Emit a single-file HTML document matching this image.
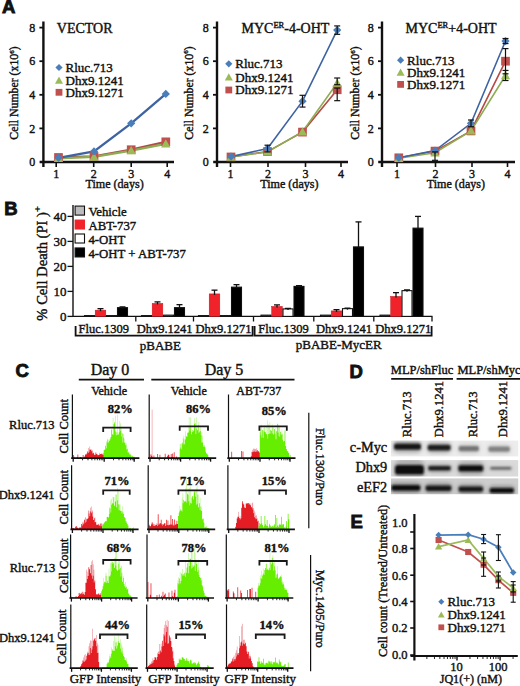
<!DOCTYPE html>
<html><head><meta charset="utf-8"><title>Figure</title>
<style>html,body{margin:0;padding:0;background:#fff;}svg{display:block;}</style>
</head><body>
<svg width="520" height="686" viewBox="0 0 520 686">
<rect width="520" height="686" fill="#fff"/>
<text x="2.0" y="12.6" font-size="18.5" font-family='"Liberation Sans", sans-serif' font-weight="bold" fill="#111" stroke="#111" stroke-width="0.9">A</text>
<text x="4.3" y="214.6" font-size="18.5" font-family='"Liberation Sans", sans-serif' font-weight="bold" fill="#111" stroke="#111" stroke-width="0.9">B</text>
<text x="15.6" y="377.0" font-size="18.5" font-family='"Liberation Sans", sans-serif' font-weight="bold" fill="#111" stroke="#111" stroke-width="0.9">C</text>
<text x="349.6" y="378.4" font-size="18.5" font-family='"Liberation Sans", sans-serif' font-weight="bold" fill="#111" stroke="#111" stroke-width="0.9">D</text>
<text x="350.6" y="528.0" font-size="18.5" font-family='"Liberation Sans", sans-serif' font-weight="bold" fill="#111" stroke="#111" stroke-width="0.9">E</text>
<line x1="43.4" y1="21.5" x2="43.4" y2="167" stroke="#111" stroke-width="2.4" stroke-linecap="butt"/>
<line x1="39.6" y1="162" x2="174" y2="162" stroke="#111" stroke-width="2.4" stroke-linecap="butt"/>
<line x1="39.4" y1="128.4" x2="43.4" y2="128.4" stroke="#111" stroke-width="1.8" stroke-linecap="butt"/>
<line x1="39.4" y1="94.8" x2="43.4" y2="94.8" stroke="#111" stroke-width="1.8" stroke-linecap="butt"/>
<line x1="39.4" y1="61.19999999999999" x2="43.4" y2="61.19999999999999" stroke="#111" stroke-width="1.8" stroke-linecap="butt"/>
<line x1="39.4" y1="27.599999999999994" x2="43.4" y2="27.599999999999994" stroke="#111" stroke-width="1.8" stroke-linecap="butt"/>
<line x1="56.2" y1="162" x2="56.2" y2="167" stroke="#111" stroke-width="1.6" stroke-linecap="butt"/>
<line x1="93.7" y1="162" x2="93.7" y2="167" stroke="#111" stroke-width="1.6" stroke-linecap="butt"/>
<line x1="131.2" y1="162" x2="131.2" y2="167" stroke="#111" stroke-width="1.6" stroke-linecap="butt"/>
<line x1="167.2" y1="162" x2="167.2" y2="167" stroke="#111" stroke-width="1.6" stroke-linecap="butt"/>
<text x="35.2" y="166.2" font-size="12" font-family='"Liberation Serif", serif' text-anchor="end" fill="#111" stroke="#111" stroke-width="0.4">0</text>
<text x="35.2" y="132.6" font-size="12" font-family='"Liberation Serif", serif' text-anchor="end" fill="#111" stroke="#111" stroke-width="0.4">2</text>
<text x="35.2" y="99.0" font-size="12" font-family='"Liberation Serif", serif' text-anchor="end" fill="#111" stroke="#111" stroke-width="0.4">4</text>
<text x="35.2" y="65.39999999999999" font-size="12" font-family='"Liberation Serif", serif' text-anchor="end" fill="#111" stroke="#111" stroke-width="0.4">6</text>
<text x="35.2" y="31.799999999999994" font-size="12" font-family='"Liberation Serif", serif' text-anchor="end" fill="#111" stroke="#111" stroke-width="0.4">8</text>
<text x="56.2" y="177.6" font-size="12" font-family='"Liberation Serif", serif' text-anchor="middle" fill="#111" stroke="#111" stroke-width="0.4">1</text>
<text x="93.7" y="177.6" font-size="12" font-family='"Liberation Serif", serif' text-anchor="middle" fill="#111" stroke="#111" stroke-width="0.4">2</text>
<text x="131.2" y="177.6" font-size="12" font-family='"Liberation Serif", serif' text-anchor="middle" fill="#111" stroke="#111" stroke-width="0.4">3</text>
<text x="167.2" y="177.6" font-size="12" font-family='"Liberation Serif", serif' text-anchor="middle" fill="#111" stroke="#111" stroke-width="0.4">4</text>
<text x="114.6" y="187.7" font-size="12.1" font-family='"Liberation Serif", serif' text-anchor="middle" fill="#111" stroke="#111" stroke-width="0.4">Time (days)</text>
<text x="18.2" y="93" font-size="11.8" font-family='"Liberation Serif", serif' text-anchor="middle" fill="#111" stroke="#111" stroke-width="0.4" transform="rotate(-90 18.2 93)">Cell Number (x10<tspan font-size="7" dy="-4.5">6</tspan><tspan dy="4.5">)</tspan></text>
<text x="56.8" y="32.8" font-size="14" font-family='"Liberation Serif", serif' fill="#111" stroke="#111" stroke-width="0.4">VECTOR</text>
<polyline points="58.50,157.46 94.00,156.46 131.20,149.74 165.80,141.84" fill="none" stroke="#b44a46" stroke-width="2.3"/>
<polyline points="58.50,158.30 94.00,156.96 131.20,150.58 165.80,143.86" fill="none" stroke="#8cad52" stroke-width="2.3"/>
<polyline points="58.50,157.80 94.00,151.42 131.20,123.36 165.80,93.96" fill="none" stroke="#3d63a2" stroke-width="2.3"/>
<rect x="54.147999999999996" y="153.112" width="8.704" height="8.704" fill="#c0504d"/>
<rect x="89.648" y="152.10399999999998" width="8.704" height="8.704" fill="#c0504d"/>
<rect x="126.84799999999998" y="145.384" width="8.704" height="8.704" fill="#c0504d"/>
<rect x="161.448" y="137.488" width="8.704" height="8.704" fill="#c0504d"/>
<polygon points="58.50,153.70 63.10,161.98 53.90,161.98" fill="#9bbb59"/>
<polygon points="94.00,152.36 98.60,160.64 89.40,160.64" fill="#9bbb59"/>
<polygon points="131.20,145.98 135.80,154.26 126.60,154.26" fill="#9bbb59"/>
<polygon points="165.80,139.26 170.40,147.54 161.20,147.54" fill="#9bbb59"/>
<polygon points="58.50,153.66 62.64,157.80 58.50,161.94 54.36,157.80" fill="#4a7ebb"/>
<polygon points="94.00,147.28 98.14,151.42 94.00,155.56 89.86,151.42" fill="#4a7ebb"/>
<polygon points="131.20,119.22 135.34,123.36 131.20,127.50 127.06,123.36" fill="#4a7ebb"/>
<polygon points="165.80,89.82 169.94,93.96 165.80,98.10 161.66,93.96" fill="#4a7ebb"/>
<polygon points="59.00,63.90 62.60,67.50 59.00,71.10 55.40,67.50" fill="#4a7ebb"/>
<text x="65.5" y="71.8" font-size="13" font-family='"Liberation Serif", serif' fill="#111" stroke="#111" stroke-width="0.4">Rluc.713</text>
<polygon points="59.00,76.50 63.00,83.70 55.00,83.70" fill="#9bbb59"/>
<text x="65.5" y="84.8" font-size="13" font-family='"Liberation Serif", serif' fill="#111" stroke="#111" stroke-width="0.4">Dhx9.1241</text>
<rect x="55.6" y="88.89999999999999" width="6.8" height="6.8" fill="#c0504d"/>
<text x="65.5" y="96.6" font-size="13" font-family='"Liberation Serif", serif' fill="#111" stroke="#111" stroke-width="0.4">Dhx9.1271</text>
<line x1="217" y1="21.5" x2="217" y2="167" stroke="#111" stroke-width="2.4" stroke-linecap="butt"/>
<line x1="213.2" y1="162" x2="348" y2="162" stroke="#111" stroke-width="2.4" stroke-linecap="butt"/>
<line x1="213" y1="128.4" x2="217" y2="128.4" stroke="#111" stroke-width="1.8" stroke-linecap="butt"/>
<line x1="213" y1="94.8" x2="217" y2="94.8" stroke="#111" stroke-width="1.8" stroke-linecap="butt"/>
<line x1="213" y1="61.19999999999999" x2="217" y2="61.19999999999999" stroke="#111" stroke-width="1.8" stroke-linecap="butt"/>
<line x1="213" y1="27.599999999999994" x2="217" y2="27.599999999999994" stroke="#111" stroke-width="1.8" stroke-linecap="butt"/>
<line x1="230.5" y1="162" x2="230.5" y2="167" stroke="#111" stroke-width="1.6" stroke-linecap="butt"/>
<line x1="268" y1="162" x2="268" y2="167" stroke="#111" stroke-width="1.6" stroke-linecap="butt"/>
<line x1="305.5" y1="162" x2="305.5" y2="167" stroke="#111" stroke-width="1.6" stroke-linecap="butt"/>
<line x1="341" y1="162" x2="341" y2="167" stroke="#111" stroke-width="1.6" stroke-linecap="butt"/>
<text x="208.8" y="166.2" font-size="12" font-family='"Liberation Serif", serif' text-anchor="end" fill="#111" stroke="#111" stroke-width="0.4">0</text>
<text x="208.8" y="132.6" font-size="12" font-family='"Liberation Serif", serif' text-anchor="end" fill="#111" stroke="#111" stroke-width="0.4">2</text>
<text x="208.8" y="99.0" font-size="12" font-family='"Liberation Serif", serif' text-anchor="end" fill="#111" stroke="#111" stroke-width="0.4">4</text>
<text x="208.8" y="65.39999999999999" font-size="12" font-family='"Liberation Serif", serif' text-anchor="end" fill="#111" stroke="#111" stroke-width="0.4">6</text>
<text x="208.8" y="31.799999999999994" font-size="12" font-family='"Liberation Serif", serif' text-anchor="end" fill="#111" stroke="#111" stroke-width="0.4">8</text>
<text x="230.5" y="177.6" font-size="12" font-family='"Liberation Serif", serif' text-anchor="middle" fill="#111" stroke="#111" stroke-width="0.4">1</text>
<text x="268" y="177.6" font-size="12" font-family='"Liberation Serif", serif' text-anchor="middle" fill="#111" stroke="#111" stroke-width="0.4">2</text>
<text x="305.5" y="177.6" font-size="12" font-family='"Liberation Serif", serif' text-anchor="middle" fill="#111" stroke="#111" stroke-width="0.4">3</text>
<text x="341" y="177.6" font-size="12" font-family='"Liberation Serif", serif' text-anchor="middle" fill="#111" stroke="#111" stroke-width="0.4">4</text>
<text x="289.4" y="187.7" font-size="12.1" font-family='"Liberation Serif", serif' text-anchor="middle" fill="#111" stroke="#111" stroke-width="0.4">Time (days)</text>
<text x="192.6" y="93" font-size="11.8" font-family='"Liberation Serif", serif' text-anchor="middle" fill="#111" stroke="#111" stroke-width="0.4" transform="rotate(-90 192.6 93)">Cell Number (x10<tspan font-size="7" dy="-4.5">6</tspan><tspan dy="4.5">)</tspan></text>
<text x="241.5" y="32.8" font-size="14" font-family='"Liberation Serif", serif' fill="#111" stroke="#111" stroke-width="0.4">MYC<tspan font-size="8.5" dy="-4.5">ER</tspan><tspan dy="4.5">-4-OHT</tspan></text>
<polyline points="231.00,156.96 267.50,151.58 302.50,132.10 337.20,89.76" fill="none" stroke="#b44a46" stroke-width="1.6"/>
<polyline points="231.00,156.96 267.50,151.92 302.50,131.76 337.20,83.04" fill="none" stroke="#8cad52" stroke-width="1.6"/>
<polyline points="231.00,156.62 267.50,148.56 302.50,101.18 337.20,30.12" fill="none" stroke="#3d63a2" stroke-width="1.6"/>
<rect x="226.648" y="152.608" width="8.704" height="8.704" fill="#c0504d"/>
<rect x="263.148" y="147.232" width="8.704" height="8.704" fill="#c0504d"/>
<rect x="298.148" y="127.744" width="8.704" height="8.704" fill="#c0504d"/>
<rect x="332.848" y="85.408" width="8.704" height="8.704" fill="#c0504d"/>
<polygon points="231.00,152.36 235.60,160.64 226.40,160.64" fill="#9bbb59"/>
<polygon points="267.50,147.32 272.10,155.60 262.90,155.60" fill="#9bbb59"/>
<polygon points="302.50,127.16 307.10,135.44 297.90,135.44" fill="#9bbb59"/>
<polygon points="337.20,78.44 341.80,86.72 332.60,86.72" fill="#9bbb59"/>
<polygon points="231.00,152.48 235.14,156.62 231.00,160.76 226.86,156.62" fill="#4a7ebb"/>
<polygon points="267.50,144.42 271.64,148.56 267.50,152.70 263.36,148.56" fill="#4a7ebb"/>
<polygon points="302.50,97.04 306.64,101.18 302.50,105.32 298.36,101.18" fill="#4a7ebb"/>
<polygon points="337.20,25.98 341.34,30.12 337.20,34.26 333.06,30.12" fill="#4a7ebb"/>
<line x1="337.2" y1="88.08000000000001" x2="337.2" y2="100.68" stroke="#111" stroke-width="1.2" stroke-linecap="butt"/>
<line x1="334.2" y1="88.08000000000001" x2="340.2" y2="88.08000000000001" stroke="#111" stroke-width="1.2" stroke-linecap="butt"/>
<line x1="334.2" y1="100.68" x2="340.2" y2="100.68" stroke="#111" stroke-width="1.2" stroke-linecap="butt"/>
<line x1="337.2" y1="78.0" x2="337.2" y2="84.71999999999998" stroke="#111" stroke-width="1.2" stroke-linecap="butt"/>
<line x1="334.2" y1="78.0" x2="340.2" y2="78.0" stroke="#111" stroke-width="1.2" stroke-linecap="butt"/>
<line x1="334.2" y1="84.71999999999998" x2="340.2" y2="84.71999999999998" stroke="#111" stroke-width="1.2" stroke-linecap="butt"/>
<line x1="267.5" y1="145.2" x2="267.5" y2="151.92" stroke="#111" stroke-width="1.2" stroke-linecap="butt"/>
<line x1="264.5" y1="145.2" x2="270.5" y2="145.2" stroke="#111" stroke-width="1.2" stroke-linecap="butt"/>
<line x1="264.5" y1="151.92" x2="270.5" y2="151.92" stroke="#111" stroke-width="1.2" stroke-linecap="butt"/>
<line x1="302.5" y1="95.30399999999999" x2="302.5" y2="107.064" stroke="#111" stroke-width="1.2" stroke-linecap="butt"/>
<line x1="299.5" y1="95.30399999999999" x2="305.5" y2="95.30399999999999" stroke="#111" stroke-width="1.2" stroke-linecap="butt"/>
<line x1="299.5" y1="107.064" x2="305.5" y2="107.064" stroke="#111" stroke-width="1.2" stroke-linecap="butt"/>
<line x1="337.2" y1="25.919999999999987" x2="337.2" y2="34.32000000000001" stroke="#111" stroke-width="1.2" stroke-linecap="butt"/>
<line x1="334.2" y1="25.919999999999987" x2="340.2" y2="25.919999999999987" stroke="#111" stroke-width="1.2" stroke-linecap="butt"/>
<line x1="334.2" y1="34.32000000000001" x2="340.2" y2="34.32000000000001" stroke="#111" stroke-width="1.2" stroke-linecap="butt"/>
<polygon points="228.80,60.20 232.40,63.80 228.80,67.40 225.20,63.80" fill="#4a7ebb"/>
<text x="235.3" y="68.1" font-size="13" font-family='"Liberation Serif", serif' fill="#111" stroke="#111" stroke-width="0.4">Rluc.713</text>
<polygon points="228.80,73.30 232.80,80.50 224.80,80.50" fill="#9bbb59"/>
<text x="235.3" y="81.6" font-size="13" font-family='"Liberation Serif", serif' fill="#111" stroke="#111" stroke-width="0.4">Dhx9.1241</text>
<rect x="225.4" y="86.6" width="6.8" height="6.8" fill="#c0504d"/>
<text x="235.3" y="94.3" font-size="13" font-family='"Liberation Serif", serif' fill="#111" stroke="#111" stroke-width="0.4">Dhx9.1271</text>
<line x1="382" y1="21.5" x2="382" y2="167" stroke="#111" stroke-width="2.4" stroke-linecap="butt"/>
<line x1="378.2" y1="162" x2="515" y2="162" stroke="#111" stroke-width="2.4" stroke-linecap="butt"/>
<line x1="378" y1="128.4" x2="382" y2="128.4" stroke="#111" stroke-width="1.8" stroke-linecap="butt"/>
<line x1="378" y1="94.8" x2="382" y2="94.8" stroke="#111" stroke-width="1.8" stroke-linecap="butt"/>
<line x1="378" y1="61.19999999999999" x2="382" y2="61.19999999999999" stroke="#111" stroke-width="1.8" stroke-linecap="butt"/>
<line x1="378" y1="27.599999999999994" x2="382" y2="27.599999999999994" stroke="#111" stroke-width="1.8" stroke-linecap="butt"/>
<line x1="397" y1="162" x2="397" y2="167" stroke="#111" stroke-width="1.6" stroke-linecap="butt"/>
<line x1="435.5" y1="162" x2="435.5" y2="167" stroke="#111" stroke-width="1.6" stroke-linecap="butt"/>
<line x1="472" y1="162" x2="472" y2="167" stroke="#111" stroke-width="1.6" stroke-linecap="butt"/>
<line x1="507.5" y1="162" x2="507.5" y2="167" stroke="#111" stroke-width="1.6" stroke-linecap="butt"/>
<text x="373.8" y="166.2" font-size="12" font-family='"Liberation Serif", serif' text-anchor="end" fill="#111" stroke="#111" stroke-width="0.4">0</text>
<text x="373.8" y="132.6" font-size="12" font-family='"Liberation Serif", serif' text-anchor="end" fill="#111" stroke="#111" stroke-width="0.4">2</text>
<text x="373.8" y="99.0" font-size="12" font-family='"Liberation Serif", serif' text-anchor="end" fill="#111" stroke="#111" stroke-width="0.4">4</text>
<text x="373.8" y="65.39999999999999" font-size="12" font-family='"Liberation Serif", serif' text-anchor="end" fill="#111" stroke="#111" stroke-width="0.4">6</text>
<text x="373.8" y="31.799999999999994" font-size="12" font-family='"Liberation Serif", serif' text-anchor="end" fill="#111" stroke="#111" stroke-width="0.4">8</text>
<text x="397" y="177.6" font-size="12" font-family='"Liberation Serif", serif' text-anchor="middle" fill="#111" stroke="#111" stroke-width="0.4">1</text>
<text x="435.5" y="177.6" font-size="12" font-family='"Liberation Serif", serif' text-anchor="middle" fill="#111" stroke="#111" stroke-width="0.4">2</text>
<text x="472" y="177.6" font-size="12" font-family='"Liberation Serif", serif' text-anchor="middle" fill="#111" stroke="#111" stroke-width="0.4">3</text>
<text x="507.5" y="177.6" font-size="12" font-family='"Liberation Serif", serif' text-anchor="middle" fill="#111" stroke="#111" stroke-width="0.4">4</text>
<text x="455.9" y="187.7" font-size="12.1" font-family='"Liberation Serif", serif' text-anchor="middle" fill="#111" stroke="#111" stroke-width="0.4">Time (days)</text>
<text x="359.2" y="93" font-size="11.8" font-family='"Liberation Serif", serif' text-anchor="middle" fill="#111" stroke="#111" stroke-width="0.4" transform="rotate(-90 359.2 93)">Cell Number (x10<tspan font-size="7" dy="-4.5">6</tspan><tspan dy="4.5">)</tspan></text>
<text x="405.5" y="32.8" font-size="14" font-family='"Liberation Serif", serif' fill="#111" stroke="#111" stroke-width="0.4">MYC<tspan font-size="8.5" dy="-4.5">ER</tspan><tspan dy="4.5">+4-OHT</tspan></text>
<polyline points="398.80,157.80 435.00,151.08 471.00,130.92 505.50,61.20" fill="none" stroke="#b44a46" stroke-width="1.6"/>
<polyline points="398.80,158.30 435.00,152.76 471.00,130.92 505.50,75.48" fill="none" stroke="#8cad52" stroke-width="1.6"/>
<polyline points="398.80,157.80 435.00,150.58 471.00,123.36 505.50,41.04" fill="none" stroke="#3d63a2" stroke-width="1.6"/>
<rect x="394.44800000000004" y="153.448" width="8.704" height="8.704" fill="#c0504d"/>
<rect x="430.648" y="146.72799999999998" width="8.704" height="8.704" fill="#c0504d"/>
<rect x="466.648" y="126.56799999999998" width="8.704" height="8.704" fill="#c0504d"/>
<rect x="501.148" y="56.847999999999985" width="8.704" height="8.704" fill="#c0504d"/>
<polygon points="398.80,153.70 403.40,161.98 394.20,161.98" fill="#9bbb59"/>
<polygon points="435.00,148.16 439.60,156.44 430.40,156.44" fill="#9bbb59"/>
<polygon points="471.00,126.32 475.60,134.60 466.40,134.60" fill="#9bbb59"/>
<polygon points="505.50,70.88 510.10,79.16 500.90,79.16" fill="#9bbb59"/>
<polygon points="398.80,153.66 402.94,157.80 398.80,161.94 394.66,157.80" fill="#4a7ebb"/>
<polygon points="435.00,146.44 439.14,150.58 435.00,154.72 430.86,150.58" fill="#4a7ebb"/>
<polygon points="471.00,119.22 475.14,123.36 471.00,127.50 466.86,123.36" fill="#4a7ebb"/>
<polygon points="505.50,36.90 509.64,41.04 505.50,45.18 501.36,41.04" fill="#4a7ebb"/>
<line x1="505.5" y1="48.599999999999994" x2="505.5" y2="73.8" stroke="#111" stroke-width="1.2" stroke-linecap="butt"/>
<line x1="502.5" y1="48.599999999999994" x2="508.5" y2="48.599999999999994" stroke="#111" stroke-width="1.2" stroke-linecap="butt"/>
<line x1="502.5" y1="73.8" x2="508.5" y2="73.8" stroke="#111" stroke-width="1.2" stroke-linecap="butt"/>
<line x1="435" y1="151.92" x2="435" y2="160.32" stroke="#111" stroke-width="1.2" stroke-linecap="butt"/>
<line x1="432" y1="151.92" x2="438" y2="151.92" stroke="#111" stroke-width="1.2" stroke-linecap="butt"/>
<line x1="432" y1="160.32" x2="438" y2="160.32" stroke="#111" stroke-width="1.2" stroke-linecap="butt"/>
<line x1="505.5" y1="70.44" x2="505.5" y2="80.51999999999998" stroke="#111" stroke-width="1.2" stroke-linecap="butt"/>
<line x1="502.5" y1="70.44" x2="508.5" y2="70.44" stroke="#111" stroke-width="1.2" stroke-linecap="butt"/>
<line x1="502.5" y1="80.51999999999998" x2="508.5" y2="80.51999999999998" stroke="#111" stroke-width="1.2" stroke-linecap="butt"/>
<line x1="471" y1="120.0" x2="471" y2="126.72" stroke="#111" stroke-width="1.2" stroke-linecap="butt"/>
<line x1="468" y1="120.0" x2="474" y2="120.0" stroke="#111" stroke-width="1.2" stroke-linecap="butt"/>
<line x1="468" y1="126.72" x2="474" y2="126.72" stroke="#111" stroke-width="1.2" stroke-linecap="butt"/>
<line x1="505.5" y1="38.51999999999998" x2="505.5" y2="43.56" stroke="#111" stroke-width="1.2" stroke-linecap="butt"/>
<line x1="502.5" y1="38.51999999999998" x2="508.5" y2="38.51999999999998" stroke="#111" stroke-width="1.2" stroke-linecap="butt"/>
<line x1="502.5" y1="43.56" x2="508.5" y2="43.56" stroke="#111" stroke-width="1.2" stroke-linecap="butt"/>
<polygon points="400.60,56.60 404.20,60.20 400.60,63.80 397.00,60.20" fill="#4a7ebb"/>
<text x="407.1" y="64.5" font-size="13" font-family='"Liberation Serif", serif' fill="#111" stroke="#111" stroke-width="0.4">Rluc.713</text>
<polygon points="400.60,68.60 404.60,75.80 396.60,75.80" fill="#9bbb59"/>
<text x="407.1" y="76.89999999999999" font-size="13" font-family='"Liberation Serif", serif' fill="#111" stroke="#111" stroke-width="0.4">Dhx9.1241</text>
<rect x="397.20000000000005" y="81.0" width="6.8" height="6.8" fill="#c0504d"/>
<text x="407.1" y="88.7" font-size="13" font-family='"Liberation Serif", serif' fill="#111" stroke="#111" stroke-width="0.4">Dhx9.1271</text>
<line x1="73" y1="205" x2="73" y2="316.9" stroke="#111" stroke-width="1.4" stroke-linecap="butt"/>
<line x1="73" y1="316.4" x2="432.5" y2="316.4" stroke="#111" stroke-width="1.4" stroke-linecap="butt"/>
<line x1="67.5" y1="316.4" x2="73" y2="316.4" stroke="#111" stroke-width="1.3" stroke-linecap="butt"/>
<text x="66.5" y="320.9" font-size="13" font-family='"Liberation Serif", serif' text-anchor="end" fill="#111" stroke="#111" stroke-width="0.4">0</text>
<line x1="67.5" y1="291.4" x2="73" y2="291.4" stroke="#111" stroke-width="1.3" stroke-linecap="butt"/>
<text x="66.5" y="295.9" font-size="13" font-family='"Liberation Serif", serif' text-anchor="end" fill="#111" stroke="#111" stroke-width="0.4">10</text>
<line x1="67.5" y1="266.4" x2="73" y2="266.4" stroke="#111" stroke-width="1.3" stroke-linecap="butt"/>
<text x="66.5" y="270.9" font-size="13" font-family='"Liberation Serif", serif' text-anchor="end" fill="#111" stroke="#111" stroke-width="0.4">20</text>
<line x1="67.5" y1="241.39999999999998" x2="73" y2="241.39999999999998" stroke="#111" stroke-width="1.3" stroke-linecap="butt"/>
<text x="66.5" y="245.89999999999998" font-size="13" font-family='"Liberation Serif", serif' text-anchor="end" fill="#111" stroke="#111" stroke-width="0.4">30</text>
<line x1="67.5" y1="216.39999999999998" x2="73" y2="216.39999999999998" stroke="#111" stroke-width="1.3" stroke-linecap="butt"/>
<text x="66.5" y="220.89999999999998" font-size="13" font-family='"Liberation Serif", serif' text-anchor="end" fill="#111" stroke="#111" stroke-width="0.4">40</text>
<text x="47.0" y="263.4" font-size="14.6" font-family='"Liberation Serif", serif' text-anchor="middle" fill="#111" stroke="#111" stroke-width="0.4" transform="rotate(-90 47.0 263.4)">% Cell Death (PI )<tspan font-size="10.5" dy="-5.5">+</tspan></text>
<line x1="135.8" y1="316.4" x2="135.8" y2="321.5" stroke="#111" stroke-width="1.3" stroke-linecap="butt"/>
<line x1="193.5" y1="316.4" x2="193.5" y2="321.5" stroke="#111" stroke-width="1.3" stroke-linecap="butt"/>
<line x1="253.5" y1="316.4" x2="253.5" y2="321.5" stroke="#111" stroke-width="1.3" stroke-linecap="butt"/>
<line x1="313.8" y1="316.4" x2="313.8" y2="321.5" stroke="#111" stroke-width="1.3" stroke-linecap="butt"/>
<line x1="373.8" y1="316.4" x2="373.8" y2="321.5" stroke="#111" stroke-width="1.3" stroke-linecap="butt"/>
<line x1="432" y1="316.4" x2="432" y2="321.5" stroke="#111" stroke-width="1.3" stroke-linecap="butt"/>
<rect x="84.5" y="315.59999999999997" width="10" height="0.8" fill="#bcbcbc" stroke="#111" stroke-width="1.1"/>
<rect x="95.2" y="310.15" width="10.6" height="6.25" fill="#f0222a" stroke="#c8161e" stroke-width="0.5"/>
<rect x="106.5" y="315.59999999999997" width="10" height="0.8" fill="#ffffff" stroke="#111" stroke-width="1.1"/>
<rect x="117.5" y="307.65" width="10" height="8.75" fill="#000000" stroke="#111" stroke-width="1.1"/>
<line x1="100.5" y1="308.65" x2="100.5" y2="311.15" stroke="#111" stroke-width="1.3" stroke-linecap="butt"/>
<line x1="97.5" y1="308.65" x2="103.5" y2="308.65" stroke="#111" stroke-width="1.3" stroke-linecap="butt"/>
<line x1="122.5" y1="306.9" x2="122.5" y2="308.65" stroke="#111" stroke-width="1.3" stroke-linecap="butt"/>
<line x1="119.5" y1="306.9" x2="125.5" y2="306.9" stroke="#111" stroke-width="1.3" stroke-linecap="butt"/>
<rect x="141.5" y="315.59999999999997" width="10" height="0.8" fill="#bcbcbc" stroke="#111" stroke-width="1.1"/>
<rect x="152.2" y="303.4" width="10.6" height="13.0" fill="#f0222a" stroke="#c8161e" stroke-width="0.5"/>
<rect x="163.5" y="315.15" width="10" height="1.25" fill="#ffffff" stroke="#111" stroke-width="1.1"/>
<rect x="174.5" y="307.65" width="10" height="8.75" fill="#000000" stroke="#111" stroke-width="1.1"/>
<line x1="157.5" y1="301.9" x2="157.5" y2="304.4" stroke="#111" stroke-width="1.3" stroke-linecap="butt"/>
<line x1="154.5" y1="301.9" x2="160.5" y2="301.9" stroke="#111" stroke-width="1.3" stroke-linecap="butt"/>
<line x1="179.5" y1="304.65" x2="179.5" y2="308.65" stroke="#111" stroke-width="1.3" stroke-linecap="butt"/>
<line x1="176.5" y1="304.65" x2="182.5" y2="304.65" stroke="#111" stroke-width="1.3" stroke-linecap="butt"/>
<rect x="198.5" y="315.59999999999997" width="10" height="0.8" fill="#bcbcbc" stroke="#111" stroke-width="1.1"/>
<rect x="209.2" y="293.9" width="10.6" height="22.5" fill="#f0222a" stroke="#c8161e" stroke-width="0.5"/>
<rect x="220.5" y="315.59999999999997" width="10" height="0.8" fill="#ffffff" stroke="#111" stroke-width="1.1"/>
<rect x="231.5" y="287.15" width="10" height="29.25" fill="#000000" stroke="#111" stroke-width="1.1"/>
<line x1="214.5" y1="290.15" x2="214.5" y2="294.9" stroke="#111" stroke-width="1.3" stroke-linecap="butt"/>
<line x1="211.5" y1="290.15" x2="217.5" y2="290.15" stroke="#111" stroke-width="1.3" stroke-linecap="butt"/>
<line x1="236.5" y1="284.65" x2="236.5" y2="288.15" stroke="#111" stroke-width="1.3" stroke-linecap="butt"/>
<line x1="233.5" y1="284.65" x2="239.5" y2="284.65" stroke="#111" stroke-width="1.3" stroke-linecap="butt"/>
<rect x="261.0" y="315.15" width="10" height="1.25" fill="#bcbcbc" stroke="#111" stroke-width="1.1"/>
<rect x="271.7" y="306.4" width="10.6" height="10.0" fill="#f0222a" stroke="#c8161e" stroke-width="0.5"/>
<rect x="283.0" y="308.9" width="10" height="7.5" fill="#ffffff" stroke="#111" stroke-width="1.1"/>
<rect x="294.0" y="286.4" width="10" height="30.0" fill="#000000" stroke="#111" stroke-width="1.1"/>
<line x1="277.0" y1="304.9" x2="277.0" y2="307.4" stroke="#111" stroke-width="1.3" stroke-linecap="butt"/>
<line x1="274.0" y1="304.9" x2="280.0" y2="304.9" stroke="#111" stroke-width="1.3" stroke-linecap="butt"/>
<line x1="288.0" y1="308.4" x2="288.0" y2="309.9" stroke="#111" stroke-width="1.3" stroke-linecap="butt"/>
<line x1="285.0" y1="308.4" x2="291.0" y2="308.4" stroke="#111" stroke-width="1.3" stroke-linecap="butt"/>
<line x1="299.0" y1="285.65" x2="299.0" y2="287.4" stroke="#111" stroke-width="1.3" stroke-linecap="butt"/>
<line x1="296.0" y1="285.65" x2="302.0" y2="285.65" stroke="#111" stroke-width="1.3" stroke-linecap="butt"/>
<rect x="320.5" y="315.15" width="10" height="1.25" fill="#bcbcbc" stroke="#111" stroke-width="1.1"/>
<rect x="331.2" y="310.9" width="10.6" height="5.5" fill="#f0222a" stroke="#c8161e" stroke-width="0.5"/>
<rect x="342.5" y="308.65" width="10" height="7.75" fill="#ffffff" stroke="#111" stroke-width="1.1"/>
<rect x="353.5" y="246.89999999999998" width="10" height="69.5" fill="#000000" stroke="#111" stroke-width="1.1"/>
<line x1="336.5" y1="309.65" x2="336.5" y2="311.9" stroke="#111" stroke-width="1.3" stroke-linecap="butt"/>
<line x1="333.5" y1="309.65" x2="339.5" y2="309.65" stroke="#111" stroke-width="1.3" stroke-linecap="butt"/>
<line x1="347.5" y1="308.15" x2="347.5" y2="309.65" stroke="#111" stroke-width="1.3" stroke-linecap="butt"/>
<line x1="344.5" y1="308.15" x2="350.5" y2="308.15" stroke="#111" stroke-width="1.3" stroke-linecap="butt"/>
<line x1="358.5" y1="221.89999999999998" x2="358.5" y2="247.89999999999998" stroke="#111" stroke-width="1.3" stroke-linecap="butt"/>
<line x1="355.5" y1="221.89999999999998" x2="361.5" y2="221.89999999999998" stroke="#111" stroke-width="1.3" stroke-linecap="butt"/>
<rect x="380.0" y="315.15" width="10" height="1.25" fill="#bcbcbc" stroke="#111" stroke-width="1.1"/>
<rect x="390.7" y="296.4" width="10.6" height="20.0" fill="#f0222a" stroke="#c8161e" stroke-width="0.5"/>
<rect x="402.0" y="290.65" width="10" height="25.75" fill="#ffffff" stroke="#111" stroke-width="1.1"/>
<rect x="413.0" y="228.14999999999998" width="10" height="88.25" fill="#000000" stroke="#111" stroke-width="1.1"/>
<line x1="396.0" y1="292.65" x2="396.0" y2="297.4" stroke="#111" stroke-width="1.3" stroke-linecap="butt"/>
<line x1="393.0" y1="292.65" x2="399.0" y2="292.65" stroke="#111" stroke-width="1.3" stroke-linecap="butt"/>
<line x1="407.0" y1="289.9" x2="407.0" y2="291.65" stroke="#111" stroke-width="1.3" stroke-linecap="butt"/>
<line x1="404.0" y1="289.9" x2="410.0" y2="289.9" stroke="#111" stroke-width="1.3" stroke-linecap="butt"/>
<line x1="418.0" y1="216.39999999999998" x2="418.0" y2="229.14999999999998" stroke="#111" stroke-width="1.3" stroke-linecap="butt"/>
<line x1="415.0" y1="216.39999999999998" x2="421.0" y2="216.39999999999998" stroke="#111" stroke-width="1.3" stroke-linecap="butt"/>
<rect x="75.1" y="206.1" width="9.4" height="9" fill="#bcbcbc" stroke="#111" stroke-width="1.1"/>
<text x="88.4" y="215.79999999999998" font-size="12.8" font-family='"Liberation Serif", serif' fill="#111" stroke="#111" stroke-width="0.4">Vehicle</text>
<rect x="74.6" y="219.54999999999998" width="10.4" height="10" fill="#f0222a"/>
<text x="88.4" y="229.74999999999997" font-size="12.8" font-family='"Liberation Serif", serif' fill="#111" stroke="#111" stroke-width="0.4">ABT-737</text>
<rect x="75.1" y="234.0" width="9.4" height="9" fill="#fff" stroke="#111" stroke-width="1.1"/>
<text x="88.4" y="243.7" font-size="12.8" font-family='"Liberation Serif", serif' fill="#111" stroke="#111" stroke-width="0.4">4-OHT</text>
<rect x="75.1" y="247.95" width="9.4" height="9" fill="#000" stroke="#111" stroke-width="1.1"/>
<text x="88.4" y="257.65" font-size="12.8" font-family='"Liberation Serif", serif' fill="#111" stroke="#111" stroke-width="0.4">4-OHT + ABT-737</text>
<text x="103.8" y="332.6" font-size="12.5" font-family='"Liberation Serif", serif' text-anchor="middle" fill="#111" stroke="#111" stroke-width="0.4">Fluc.1309</text>
<text x="164.6" y="332.6" font-size="12.5" font-family='"Liberation Serif", serif' text-anchor="middle" fill="#111" stroke="#111" stroke-width="0.4">Dhx9.1241</text>
<text x="223.5" y="332.6" font-size="12.5" font-family='"Liberation Serif", serif' text-anchor="middle" fill="#111" stroke="#111" stroke-width="0.4">Dhx9.1271</text>
<text x="283.5" y="332.6" font-size="12.5" font-family='"Liberation Serif", serif' text-anchor="middle" fill="#111" stroke="#111" stroke-width="0.4">Fluc.1309</text>
<text x="344" y="332.6" font-size="12.5" font-family='"Liberation Serif", serif' text-anchor="middle" fill="#111" stroke="#111" stroke-width="0.4">Dhx9.1241</text>
<text x="403.2" y="332.6" font-size="12.5" font-family='"Liberation Serif", serif' text-anchor="middle" fill="#111" stroke="#111" stroke-width="0.4">Dhx9.1271</text>
<polyline points="75.6,326 75.6,335.6 252.6,335.6 252.6,326" fill="none" stroke="#111" stroke-width="1.8"/>
<polyline points="254.6,326 254.6,335.6 431.6,335.6 431.6,326" fill="none" stroke="#111" stroke-width="1.8"/>
<text x="160.4" y="350.2" font-size="13" font-family='"Liberation Serif", serif' text-anchor="middle" fill="#111" stroke="#111" stroke-width="0.4">pBABE</text>
<text x="338.7" y="349" font-size="13" font-family='"Liberation Serif", serif' text-anchor="middle" fill="#111" stroke="#111" stroke-width="0.4">pBABE-MycER</text>
<path d="M88.00,458.10h0.60v-10.16h-0.60zM89.50,458.10h0.60v-11.48h-0.60zM91.00,458.10h0.60v-8.91h-0.60zM99.25,458.10h0.60v-5.46h-0.60zM103.00,458.10h0.60v-5.27h-0.60z" fill="#eb8c94"/>
<path d="M106.00,458.10h0.60v-16.75h-0.60zM107.50,458.10h0.60v-19.68h-0.60zM112.75,458.10h0.60v-40.25h-0.60zM115.00,458.10h0.60v-42.28h-0.60zM117.25,458.10h0.60v-43.54h-0.60zM119.50,458.10h0.60v-37.11h-0.60zM120.25,458.10h0.60v-34.95h-0.60zM121.00,458.10h0.60v-29.46h-0.60zM122.50,458.10h0.60v-23.87h-0.60zM123.25,458.10h0.60v-24.55h-0.60zM124.00,458.10h0.60v-19.48h-0.60zM126.25,458.10h0.60v-14.56h-0.60zM130.00,458.10h0.60v-4.47h-0.60z" fill="#b6f28a"/>
<path d="M73.00,458.10h0.75v-3.12h-0.75zM73.75,458.10h0.75v-1.39h-0.75zM74.50,458.10h0.75v-0.00h-0.75zM75.25,458.10h0.75v-0.02h-0.75zM76.00,458.10h0.75v-0.00h-0.75zM76.75,458.10h0.75v-1.19h-0.75zM77.50,458.10h0.75v-3.68h-0.75zM78.25,458.10h0.75v-0.02h-0.75zM79.00,458.10h0.75v-0.00h-0.75zM79.75,458.10h0.75v-1.10h-0.75zM80.50,458.10h0.75v-1.16h-0.75zM81.25,458.10h0.75v-0.44h-0.75zM82.00,458.10h0.75v-0.00h-0.75zM82.75,458.10h0.75v-3.07h-0.75zM83.50,458.10h0.75v-0.14h-0.75zM84.25,458.10h0.75v-1.61h-0.75zM85.00,458.10h0.75v-3.63h-0.75zM85.75,458.10h0.75v-3.67h-0.75zM86.50,458.10h0.75v-4.51h-0.75zM87.25,458.10h0.75v-6.72h-0.75zM88.00,458.10h0.75v-5.15h-0.75zM88.75,458.10h0.75v-6.26h-0.75zM89.50,458.10h0.75v-8.68h-0.75zM90.25,458.10h0.75v-8.38h-0.75zM91.00,458.10h0.75v-6.77h-0.75zM91.75,458.10h0.75v-7.60h-0.75zM92.50,458.10h0.75v-4.69h-0.75zM93.25,458.10h0.75v-5.23h-0.75zM94.00,458.10h0.75v-3.26h-0.75zM94.75,458.10h0.75v-3.39h-0.75zM95.50,458.10h0.75v-5.69h-0.75zM96.25,458.10h0.75v-4.05h-0.75zM97.00,458.10h0.75v-3.53h-0.75zM97.75,458.10h0.75v-2.83h-0.75zM98.50,458.10h0.75v-3.14h-0.75zM99.25,458.10h0.75v-3.48h-0.75zM100.00,458.10h0.75v-4.01h-0.75zM100.75,458.10h0.75v-3.74h-0.75zM101.50,458.10h0.75v-4.51h-0.75zM102.25,458.10h0.75v-3.57h-0.75zM103.00,458.10h0.75v-3.26h-0.75z" fill="#e41c24"/>
<path d="M103.75,458.10h0.75v-7.98h-0.75zM104.50,458.10h0.75v-8.63h-0.75zM105.25,458.10h0.75v-12.36h-0.75zM106.00,458.10h0.75v-9.77h-0.75zM106.75,458.10h0.75v-15.62h-0.75zM107.50,458.10h0.75v-18.31h-0.75zM108.25,458.10h0.75v-15.63h-0.75zM109.00,458.10h0.75v-17.46h-0.75zM109.75,458.10h0.75v-18.86h-0.75zM110.50,458.10h0.75v-21.06h-0.75zM111.25,458.10h0.75v-28.68h-0.75zM112.00,458.10h0.75v-23.88h-0.75zM112.75,458.10h0.75v-23.23h-0.75zM113.50,458.10h0.75v-34.21h-0.75zM114.25,458.10h0.75v-35.97h-0.75zM115.00,458.10h0.75v-26.55h-0.75zM115.75,458.10h0.75v-22.81h-0.75zM116.50,458.10h0.75v-25.95h-0.75zM117.25,458.10h0.75v-23.38h-0.75zM118.00,458.10h0.75v-23.67h-0.75zM118.75,458.10h0.75v-25.89h-0.75zM119.50,458.10h0.75v-30.65h-0.75zM120.25,458.10h0.75v-27.38h-0.75zM121.00,458.10h0.75v-21.48h-0.75zM121.75,458.10h0.75v-24.81h-0.75zM122.50,458.10h0.75v-15.55h-0.75zM123.25,458.10h0.75v-20.46h-0.75zM124.00,458.10h0.75v-15.70h-0.75zM124.75,458.10h0.75v-14.99h-0.75zM125.50,458.10h0.75v-12.88h-0.75zM126.25,458.10h0.75v-8.60h-0.75zM127.00,458.10h0.75v-9.39h-0.75zM127.75,458.10h0.75v-5.39h-0.75zM128.50,458.10h0.75v-6.38h-0.75zM129.25,458.10h0.75v-3.73h-0.75zM130.00,458.10h0.75v-3.24h-0.75zM130.75,458.10h0.75v-2.61h-0.75zM131.50,458.10h0.75v-0.97h-0.75zM132.25,458.10h0.75v-2.38h-0.75zM133.00,458.10h0.75v-1.43h-0.75zM133.75,458.10h0.75v-1.33h-0.75z" fill="#66ee00"/>
<line x1="72.4" y1="394.5" x2="72.4" y2="458.70000000000005" stroke="#111" stroke-width="1.2" stroke-linecap="butt"/>
<line x1="71.2" y1="458.1" x2="139.4" y2="458.1" stroke="#111" stroke-width="1.7" stroke-linecap="butt"/>
<line x1="82.53192986558342" y1="458.1" x2="82.53192986558342" y2="460.3" stroke="#111" stroke-width="0.9" stroke-linecap="butt"/>
<line x1="87.99075889630954" y1="458.1" x2="87.99075889630954" y2="460.3" stroke="#111" stroke-width="0.9" stroke-linecap="butt"/>
<line x1="91.86385973116684" y1="458.1" x2="91.86385973116684" y2="460.3" stroke="#111" stroke-width="0.9" stroke-linecap="butt"/>
<line x1="94.86807013441658" y1="458.1" x2="94.86807013441658" y2="460.3" stroke="#111" stroke-width="0.9" stroke-linecap="butt"/>
<line x1="97.32268876189295" y1="458.1" x2="97.32268876189295" y2="460.3" stroke="#111" stroke-width="0.9" stroke-linecap="butt"/>
<line x1="99.39803924044196" y1="458.1" x2="99.39803924044196" y2="460.3" stroke="#111" stroke-width="0.9" stroke-linecap="butt"/>
<line x1="101.19578959675025" y1="458.1" x2="101.19578959675025" y2="460.3" stroke="#111" stroke-width="0.9" stroke-linecap="butt"/>
<line x1="102.78151779261907" y1="458.1" x2="102.78151779261907" y2="460.3" stroke="#111" stroke-width="0.9" stroke-linecap="butt"/>
<line x1="113.53192986558342" y1="458.1" x2="113.53192986558342" y2="460.3" stroke="#111" stroke-width="0.9" stroke-linecap="butt"/>
<line x1="118.99075889630953" y1="458.1" x2="118.99075889630953" y2="460.3" stroke="#111" stroke-width="0.9" stroke-linecap="butt"/>
<line x1="122.86385973116684" y1="458.1" x2="122.86385973116684" y2="460.3" stroke="#111" stroke-width="0.9" stroke-linecap="butt"/>
<line x1="125.86807013441658" y1="458.1" x2="125.86807013441658" y2="460.3" stroke="#111" stroke-width="0.9" stroke-linecap="butt"/>
<line x1="128.32268876189295" y1="458.1" x2="128.32268876189295" y2="460.3" stroke="#111" stroke-width="0.9" stroke-linecap="butt"/>
<line x1="130.39803924044196" y1="458.1" x2="130.39803924044196" y2="460.3" stroke="#111" stroke-width="0.9" stroke-linecap="butt"/>
<line x1="132.19578959675025" y1="458.1" x2="132.19578959675025" y2="460.3" stroke="#111" stroke-width="0.9" stroke-linecap="butt"/>
<line x1="133.78151779261907" y1="458.1" x2="133.78151779261907" y2="460.3" stroke="#111" stroke-width="0.9" stroke-linecap="butt"/>
<line x1="73.2" y1="458.1" x2="73.2" y2="461.70000000000005" stroke="#111" stroke-width="1.3" stroke-linecap="butt"/>
<line x1="104.2" y1="458.1" x2="104.2" y2="461.70000000000005" stroke="#111" stroke-width="1.3" stroke-linecap="butt"/>
<line x1="134.2" y1="458.1" x2="134.2" y2="461.70000000000005" stroke="#111" stroke-width="1.3" stroke-linecap="butt"/>
<polyline points="103.2,432.0 103.2,427.6 130.6,427.6 130.6,432.0" fill="none" stroke="#1a1a1a" stroke-width="1.8"/>
<text x="120.2" y="413.0" font-size="12.5" font-family='"Liberation Serif", serif' font-weight="bold" text-anchor="middle" fill="#111" stroke="#111" stroke-width="0.4">82%</text>
<path d="M151.80,458.10h0.60v-48.50h-0.60z" fill="#eb8c94"/>
<path d="M179.80,458.10h0.60v-14.19h-0.60zM180.55,458.10h0.60v-14.57h-0.60zM181.30,458.10h0.60v-14.50h-0.60zM182.80,458.10h0.60v-20.36h-0.60zM183.55,458.10h0.60v-22.54h-0.60zM185.05,458.10h0.60v-26.84h-0.60zM188.80,458.10h0.60v-41.18h-0.60zM190.30,458.10h0.60v-40.76h-0.60zM194.05,458.10h0.60v-39.77h-0.60zM196.30,458.10h0.60v-40.84h-0.60zM198.55,458.10h0.60v-36.02h-0.60zM200.05,458.10h0.60v-30.95h-0.60zM201.55,458.10h0.60v-25.80h-0.60zM202.30,458.10h0.60v-21.78h-0.60zM205.30,458.10h0.60v-9.59h-0.60z" fill="#b6f28a"/>
<path d="M149.80,458.10h0.75v-0.00h-0.75zM150.55,458.10h0.75v-3.82h-0.75zM151.30,458.10h0.75v-2.36h-0.75zM152.05,458.10h0.75v-1.41h-0.75zM152.80,458.10h0.75v-0.00h-0.75zM153.55,458.10h0.75v-2.50h-0.75zM154.30,458.10h0.75v-0.00h-0.75zM155.05,458.10h0.75v-0.00h-0.75zM155.80,458.10h0.75v-0.02h-0.75zM156.55,458.10h0.75v-0.00h-0.75zM157.30,458.10h0.75v-4.22h-0.75zM158.05,458.10h0.75v-0.00h-0.75zM158.80,458.10h0.75v-0.00h-0.75zM159.55,458.10h0.75v-3.27h-0.75zM160.30,458.10h0.75v-0.00h-0.75zM161.05,458.10h0.75v-0.00h-0.75zM161.80,458.10h0.75v-0.00h-0.75zM162.55,458.10h0.75v-0.00h-0.75zM163.30,458.10h0.75v-0.00h-0.75zM164.05,458.10h0.75v-0.00h-0.75zM164.80,458.10h0.75v-4.35h-0.75zM165.55,458.10h0.75v-0.00h-0.75zM166.30,458.10h0.75v-0.00h-0.75zM167.05,458.10h0.75v-1.83h-0.75zM167.80,458.10h0.75v-3.72h-0.75zM168.55,458.10h0.75v-3.21h-0.75zM169.30,458.10h0.75v-0.54h-0.75zM170.05,458.10h0.75v-0.00h-0.75zM170.80,458.10h0.75v-4.13h-0.75zM171.55,458.10h0.75v-1.09h-0.75zM172.30,458.10h0.75v-4.66h-0.75zM173.05,458.10h0.75v-0.65h-0.75zM173.80,458.10h0.75v-5.96h-0.75zM174.55,458.10h0.75v-0.03h-0.75zM175.30,458.10h0.75v-0.00h-0.75zM176.05,458.10h0.75v-1.50h-0.75zM176.80,458.10h0.75v-0.00h-0.75zM177.55,458.10h0.75v-0.00h-0.75zM178.30,458.10h0.75v-0.00h-0.75zM179.05,458.10h0.75v-0.00h-0.75z" fill="#e41c24"/>
<path d="M179.80,458.10h0.75v-9.46h-0.75zM180.55,458.10h0.75v-10.49h-0.75zM181.30,458.10h0.75v-8.57h-0.75zM182.05,458.10h0.75v-15.38h-0.75zM182.80,458.10h0.75v-13.64h-0.75zM183.55,458.10h0.75v-18.78h-0.75zM184.30,458.10h0.75v-13.94h-0.75zM185.05,458.10h0.75v-18.66h-0.75zM185.80,458.10h0.75v-22.00h-0.75zM186.55,458.10h0.75v-21.15h-0.75zM187.30,458.10h0.75v-25.40h-0.75zM188.05,458.10h0.75v-25.60h-0.75zM188.80,458.10h0.75v-32.34h-0.75zM189.55,458.10h0.75v-27.28h-0.75zM190.30,458.10h0.75v-31.86h-0.75zM191.05,458.10h0.75v-23.83h-0.75zM191.80,458.10h0.75v-26.15h-0.75zM192.55,458.10h0.75v-28.15h-0.75zM193.30,458.10h0.75v-26.74h-0.75zM194.05,458.10h0.75v-33.99h-0.75zM194.80,458.10h0.75v-34.87h-0.75zM195.55,458.10h0.75v-24.05h-0.75zM196.30,458.10h0.75v-29.61h-0.75zM197.05,458.10h0.75v-27.96h-0.75zM197.80,458.10h0.75v-33.05h-0.75zM198.55,458.10h0.75v-25.31h-0.75zM199.30,458.10h0.75v-26.72h-0.75zM200.05,458.10h0.75v-27.21h-0.75zM200.80,458.10h0.75v-23.10h-0.75zM201.55,458.10h0.75v-15.61h-0.75zM202.30,458.10h0.75v-15.63h-0.75zM203.05,458.10h0.75v-11.53h-0.75zM203.80,458.10h0.75v-12.74h-0.75zM204.55,458.10h0.75v-10.99h-0.75zM205.30,458.10h0.75v-6.41h-0.75zM206.05,458.10h0.75v-4.63h-0.75zM206.80,458.10h0.75v-4.61h-0.75zM207.55,458.10h0.75v-3.10h-0.75zM208.30,458.10h0.75v-1.07h-0.75zM209.05,458.10h0.75v-0.21h-0.75zM209.80,458.10h0.75v-1.09h-0.75zM210.55,458.10h0.75v-0.00h-0.75z" fill="#66ee00"/>
<line x1="149.2" y1="394.5" x2="149.2" y2="458.70000000000005" stroke="#111" stroke-width="1.2" stroke-linecap="butt"/>
<line x1="148.0" y1="458.1" x2="216.2" y2="458.1" stroke="#111" stroke-width="1.7" stroke-linecap="butt"/>
<line x1="159.21151786731784" y1="458.1" x2="159.21151786731784" y2="460.3" stroke="#111" stroke-width="0.9" stroke-linecap="butt"/>
<line x1="164.59991039442167" y1="458.1" x2="164.59991039442167" y2="460.3" stroke="#111" stroke-width="0.9" stroke-linecap="butt"/>
<line x1="168.42303573463565" y1="458.1" x2="168.42303573463565" y2="460.3" stroke="#111" stroke-width="0.9" stroke-linecap="butt"/>
<line x1="171.38848213268219" y1="458.1" x2="171.38848213268219" y2="460.3" stroke="#111" stroke-width="0.9" stroke-linecap="butt"/>
<line x1="173.8114282617395" y1="458.1" x2="173.8114282617395" y2="460.3" stroke="#111" stroke-width="0.9" stroke-linecap="butt"/>
<line x1="175.86000002443626" y1="458.1" x2="175.86000002443626" y2="460.3" stroke="#111" stroke-width="0.9" stroke-linecap="butt"/>
<line x1="177.63455360195348" y1="458.1" x2="177.63455360195348" y2="460.3" stroke="#111" stroke-width="0.9" stroke-linecap="butt"/>
<line x1="179.19982078884334" y1="458.1" x2="179.19982078884334" y2="460.3" stroke="#111" stroke-width="0.9" stroke-linecap="butt"/>
<line x1="189.81151786731783" y1="458.1" x2="189.81151786731783" y2="460.3" stroke="#111" stroke-width="0.9" stroke-linecap="butt"/>
<line x1="195.19991039442166" y1="458.1" x2="195.19991039442166" y2="460.3" stroke="#111" stroke-width="0.9" stroke-linecap="butt"/>
<line x1="199.02303573463564" y1="458.1" x2="199.02303573463564" y2="460.3" stroke="#111" stroke-width="0.9" stroke-linecap="butt"/>
<line x1="201.98848213268218" y1="458.1" x2="201.98848213268218" y2="460.3" stroke="#111" stroke-width="0.9" stroke-linecap="butt"/>
<line x1="204.4114282617395" y1="458.1" x2="204.4114282617395" y2="460.3" stroke="#111" stroke-width="0.9" stroke-linecap="butt"/>
<line x1="206.46000002443625" y1="458.1" x2="206.46000002443625" y2="460.3" stroke="#111" stroke-width="0.9" stroke-linecap="butt"/>
<line x1="208.23455360195348" y1="458.1" x2="208.23455360195348" y2="460.3" stroke="#111" stroke-width="0.9" stroke-linecap="butt"/>
<line x1="209.79982078884333" y1="458.1" x2="209.79982078884333" y2="460.3" stroke="#111" stroke-width="0.9" stroke-linecap="butt"/>
<line x1="150.0" y1="458.1" x2="150.0" y2="461.70000000000005" stroke="#111" stroke-width="1.3" stroke-linecap="butt"/>
<line x1="180.6" y1="458.1" x2="180.6" y2="461.70000000000005" stroke="#111" stroke-width="1.3" stroke-linecap="butt"/>
<line x1="210.6" y1="458.1" x2="210.6" y2="461.70000000000005" stroke="#111" stroke-width="1.3" stroke-linecap="butt"/>
<polyline points="179.7,430.7 179.7,426.3 208.0,426.3 208.0,430.7" fill="none" stroke="#1a1a1a" stroke-width="1.8"/>
<text x="198.5" y="413.0" font-size="12.5" font-family='"Liberation Serif", serif' font-weight="bold" text-anchor="middle" fill="#111" stroke="#111" stroke-width="0.4">86%</text>
<path d="M252.35,458.10h0.60v-8.26h-0.60zM253.10,458.10h0.60v-9.27h-0.60zM253.85,458.10h0.60v-9.60h-0.60zM254.60,458.10h0.60v-8.91h-0.60zM255.35,458.10h0.60v-9.19h-0.60zM256.10,458.10h0.60v-9.83h-0.60z" fill="#eb8c94"/>
<path d="M259.85,458.10h0.60v-31.58h-0.60zM260.60,458.10h0.60v-28.60h-0.60zM261.35,458.10h0.60v-33.35h-0.60zM263.60,458.10h0.60v-30.12h-0.60zM264.35,458.10h0.60v-32.56h-0.60zM265.85,458.10h0.60v-31.76h-0.60zM267.35,458.10h0.60v-37.92h-0.60zM268.10,458.10h0.60v-33.86h-0.60zM268.85,458.10h0.60v-32.35h-0.60zM269.60,458.10h0.60v-35.77h-0.60zM271.85,458.10h0.60v-33.91h-0.60zM275.60,458.10h0.60v-30.18h-0.60zM277.85,458.10h0.60v-31.82h-0.60zM278.60,458.10h0.60v-33.52h-0.60zM279.35,458.10h0.60v-30.76h-0.60zM281.60,458.10h0.60v-28.50h-0.60zM282.35,458.10h0.60v-24.39h-0.60z" fill="#b6f28a"/>
<path d="M229.10,458.10h0.75v-0.00h-0.75zM229.85,458.10h0.75v-0.00h-0.75zM230.60,458.10h0.75v-0.00h-0.75zM231.35,458.10h0.75v-6.25h-0.75zM232.10,458.10h0.75v-0.00h-0.75zM232.85,458.10h0.75v-0.00h-0.75zM233.60,458.10h0.75v-0.00h-0.75zM234.35,458.10h0.75v-0.00h-0.75zM235.10,458.10h0.75v-0.00h-0.75zM235.85,458.10h0.75v-0.00h-0.75zM236.60,458.10h0.75v-0.00h-0.75zM237.35,458.10h0.75v-0.00h-0.75zM238.10,458.10h0.75v-0.00h-0.75zM238.85,458.10h0.75v-0.00h-0.75zM239.60,458.10h0.75v-0.00h-0.75zM240.35,458.10h0.75v-0.00h-0.75zM241.10,458.10h0.75v-7.04h-0.75zM241.85,458.10h0.75v-0.00h-0.75zM242.60,458.10h0.75v-6.65h-0.75zM243.35,458.10h0.75v-0.00h-0.75zM244.10,458.10h0.75v-0.00h-0.75zM244.85,458.10h0.75v-0.00h-0.75zM245.60,458.10h0.75v-0.00h-0.75zM246.35,458.10h0.75v-0.00h-0.75zM247.10,458.10h0.75v-0.00h-0.75zM247.85,458.10h0.75v-0.00h-0.75zM248.60,458.10h0.75v-0.00h-0.75zM249.35,458.10h0.75v-0.00h-0.75zM250.10,458.10h0.75v-0.00h-0.75zM250.85,458.10h0.75v-1.95h-0.75zM251.60,458.10h0.75v-6.33h-0.75zM252.35,458.10h0.75v-5.75h-0.75zM253.10,458.10h0.75v-6.31h-0.75zM253.85,458.10h0.75v-6.90h-0.75zM254.60,458.10h0.75v-6.19h-0.75zM255.35,458.10h0.75v-6.37h-0.75zM256.10,458.10h0.75v-6.58h-0.75zM256.85,458.10h0.75v-8.01h-0.75zM257.60,458.10h0.75v-6.57h-0.75zM258.35,458.10h0.75v-6.97h-0.75zM259.10,458.10h0.75v-5.60h-0.75z" fill="#e41c24"/>
<path d="M259.85,458.10h0.75v-25.92h-0.75zM260.60,458.10h0.75v-22.74h-0.75zM261.35,458.10h0.75v-20.41h-0.75zM262.10,458.10h0.75v-28.06h-0.75zM262.85,458.10h0.75v-20.25h-0.75zM263.60,458.10h0.75v-27.23h-0.75zM264.35,458.10h0.75v-26.22h-0.75zM265.10,458.10h0.75v-25.96h-0.75zM265.85,458.10h0.75v-24.40h-0.75zM266.60,458.10h0.75v-23.68h-0.75zM267.35,458.10h0.75v-19.62h-0.75zM268.10,458.10h0.75v-24.21h-0.75zM268.85,458.10h0.75v-24.01h-0.75zM269.60,458.10h0.75v-24.58h-0.75zM270.35,458.10h0.75v-28.09h-0.75zM271.10,458.10h0.75v-27.20h-0.75zM271.85,458.10h0.75v-24.52h-0.75zM272.60,458.10h0.75v-30.95h-0.75zM273.35,458.10h0.75v-23.52h-0.75zM274.10,458.10h0.75v-29.11h-0.75zM274.85,458.10h0.75v-24.33h-0.75zM275.60,458.10h0.75v-18.88h-0.75zM276.35,458.10h0.75v-26.87h-0.75zM277.10,458.10h0.75v-34.42h-0.75zM277.85,458.10h0.75v-25.55h-0.75zM278.60,458.10h0.75v-22.08h-0.75zM279.35,458.10h0.75v-20.98h-0.75zM280.10,458.10h0.75v-26.24h-0.75zM280.85,458.10h0.75v-23.72h-0.75zM281.60,458.10h0.75v-23.69h-0.75zM282.35,458.10h0.75v-18.33h-0.75zM283.10,458.10h0.75v-16.61h-0.75zM283.85,458.10h0.75v-17.00h-0.75zM284.60,458.10h0.75v-27.51h-0.75zM285.35,458.10h0.75v-12.07h-0.75zM286.10,458.10h0.75v-9.05h-0.75zM286.85,458.10h0.75v-7.21h-0.75zM287.60,458.10h0.75v-6.57h-0.75zM288.35,458.10h0.75v-5.13h-0.75zM289.10,458.10h0.75v-1.36h-0.75zM289.85,458.10h0.75v-3.03h-0.75z" fill="#66ee00"/>
<line x1="228.5" y1="394.5" x2="228.5" y2="458.70000000000005" stroke="#111" stroke-width="1.2" stroke-linecap="butt"/>
<line x1="227.3" y1="458.1" x2="295.5" y2="458.1" stroke="#111" stroke-width="1.7" stroke-linecap="butt"/>
<line x1="238.54162086688424" y1="458.1" x2="238.54162086688424" y2="460.3" stroke="#111" stroke-width="0.9" stroke-linecap="butt"/>
<line x1="243.94762251989366" y1="458.1" x2="243.94762251989366" y2="460.3" stroke="#111" stroke-width="0.9" stroke-linecap="butt"/>
<line x1="247.78324173376845" y1="458.1" x2="247.78324173376845" y2="460.3" stroke="#111" stroke-width="0.9" stroke-linecap="butt"/>
<line x1="250.7583791331158" y1="458.1" x2="250.7583791331158" y2="460.3" stroke="#111" stroke-width="0.9" stroke-linecap="butt"/>
<line x1="253.18924338677786" y1="458.1" x2="253.18924338677786" y2="460.3" stroke="#111" stroke-width="0.9" stroke-linecap="butt"/>
<line x1="255.24450982843769" y1="458.1" x2="255.24450982843769" y2="460.3" stroke="#111" stroke-width="0.9" stroke-linecap="butt"/>
<line x1="257.0248626006527" y1="458.1" x2="257.0248626006527" y2="460.3" stroke="#111" stroke-width="0.9" stroke-linecap="butt"/>
<line x1="258.5952450397873" y1="458.1" x2="258.5952450397873" y2="460.3" stroke="#111" stroke-width="0.9" stroke-linecap="butt"/>
<line x1="269.2416208668842" y1="458.1" x2="269.2416208668842" y2="460.3" stroke="#111" stroke-width="0.9" stroke-linecap="butt"/>
<line x1="274.6476225198936" y1="458.1" x2="274.6476225198936" y2="460.3" stroke="#111" stroke-width="0.9" stroke-linecap="butt"/>
<line x1="278.48324173376847" y1="458.1" x2="278.48324173376847" y2="460.3" stroke="#111" stroke-width="0.9" stroke-linecap="butt"/>
<line x1="281.4583791331158" y1="458.1" x2="281.4583791331158" y2="460.3" stroke="#111" stroke-width="0.9" stroke-linecap="butt"/>
<line x1="283.8892433867779" y1="458.1" x2="283.8892433867779" y2="460.3" stroke="#111" stroke-width="0.9" stroke-linecap="butt"/>
<line x1="285.9445098284377" y1="458.1" x2="285.9445098284377" y2="460.3" stroke="#111" stroke-width="0.9" stroke-linecap="butt"/>
<line x1="287.72486260065267" y1="458.1" x2="287.72486260065267" y2="460.3" stroke="#111" stroke-width="0.9" stroke-linecap="butt"/>
<line x1="289.2952450397873" y1="458.1" x2="289.2952450397873" y2="460.3" stroke="#111" stroke-width="0.9" stroke-linecap="butt"/>
<line x1="229.3" y1="458.1" x2="229.3" y2="461.70000000000005" stroke="#111" stroke-width="1.3" stroke-linecap="butt"/>
<line x1="260.0" y1="458.1" x2="260.0" y2="461.70000000000005" stroke="#111" stroke-width="1.3" stroke-linecap="butt"/>
<line x1="290.0" y1="458.1" x2="290.0" y2="461.70000000000005" stroke="#111" stroke-width="1.3" stroke-linecap="butt"/>
<polyline points="259.4,430.7 259.4,426.3 286.8,426.3 286.8,430.7" fill="none" stroke="#1a1a1a" stroke-width="1.8"/>
<text x="274.2" y="415.0" font-size="12.5" font-family='"Liberation Serif", serif' font-weight="bold" text-anchor="middle" fill="#111" stroke="#111" stroke-width="0.4">85%</text>
<text x="68.3" y="426.3" font-size="12.5" font-family='"Liberation Serif", serif' text-anchor="middle" fill="#111" stroke="#111" stroke-width="0.4" transform="rotate(-90 68.3 426.3)">Cell Count</text>
<path d="M81.95,529.40h0.60v-4.67h-0.60zM82.70,529.40h0.60v-7.93h-0.60zM84.20,529.40h0.60v-10.14h-0.60zM84.95,529.40h0.60v-12.30h-0.60zM85.70,529.40h0.60v-11.34h-0.60zM87.95,529.40h0.60v-19.00h-0.60zM88.70,529.40h0.60v-18.61h-0.60zM90.20,529.40h0.60v-21.58h-0.60zM90.95,529.40h0.60v-22.89h-0.60zM92.45,529.40h0.60v-19.24h-0.60zM94.70,529.40h0.60v-12.18h-0.60zM98.45,529.40h0.60v-5.71h-0.60z" fill="#eb8c94"/>
<path d="M108.95,529.40h0.60v-22.10h-0.60zM109.70,529.40h0.60v-21.40h-0.60zM110.45,529.40h0.60v-29.05h-0.60zM111.20,529.40h0.60v-30.66h-0.60zM112.70,529.40h0.60v-32.60h-0.60zM117.20,529.40h0.60v-41.51h-0.60zM117.95,529.40h0.60v-39.63h-0.60zM122.45,529.40h0.60v-23.03h-0.60zM125.45,529.40h0.60v-10.75h-0.60zM126.20,529.40h0.60v-8.03h-0.60z" fill="#b6f28a"/>
<path d="M72.20,529.40h0.75v-1.32h-0.75zM72.95,529.40h0.75v-1.21h-0.75zM73.70,529.40h0.75v-1.30h-0.75zM74.45,529.40h0.75v-0.32h-0.75zM75.20,529.40h0.75v-2.54h-0.75zM75.95,529.40h0.75v-3.40h-0.75zM76.70,529.40h0.75v-1.83h-0.75zM77.45,529.40h0.75v-1.57h-0.75zM78.20,529.40h0.75v-0.82h-0.75zM78.95,529.40h0.75v-1.64h-0.75zM79.70,529.40h0.75v-2.27h-0.75zM80.45,529.40h0.75v-1.64h-0.75zM81.20,529.40h0.75v-5.33h-0.75zM81.95,529.40h0.75v-3.63h-0.75zM82.70,529.40h0.75v-6.55h-0.75zM83.45,529.40h0.75v-5.09h-0.75zM84.20,529.40h0.75v-9.39h-0.75zM84.95,529.40h0.75v-6.64h-0.75zM85.70,529.40h0.75v-7.72h-0.75zM86.45,529.40h0.75v-10.03h-0.75zM87.20,529.40h0.75v-10.72h-0.75zM87.95,529.40h0.75v-11.12h-0.75zM88.70,529.40h0.75v-15.99h-0.75zM89.45,529.40h0.75v-13.19h-0.75zM90.20,529.40h0.75v-17.94h-0.75zM90.95,529.40h0.75v-16.12h-0.75zM91.70,529.40h0.75v-17.72h-0.75zM92.45,529.40h0.75v-12.81h-0.75zM93.20,529.40h0.75v-9.42h-0.75zM93.95,529.40h0.75v-11.23h-0.75zM94.70,529.40h0.75v-7.04h-0.75zM95.45,529.40h0.75v-7.29h-0.75zM96.20,529.40h0.75v-4.55h-0.75zM96.95,529.40h0.75v-4.49h-0.75zM97.70,529.40h0.75v-5.29h-0.75zM98.45,529.40h0.75v-4.11h-0.75zM99.20,529.40h0.75v-3.93h-0.75zM99.95,529.40h0.75v-6.01h-0.75zM100.70,529.40h0.75v-3.15h-0.75zM101.45,529.40h0.75v-5.97h-0.75z" fill="#e41c24"/>
<path d="M102.20,529.40h0.75v-4.03h-0.75zM102.95,529.40h0.75v-5.03h-0.75zM103.70,529.40h0.75v-6.36h-0.75zM104.45,529.40h0.75v-7.45h-0.75zM105.20,529.40h0.75v-8.52h-0.75zM105.95,529.40h0.75v-8.09h-0.75zM106.70,529.40h0.75v-12.29h-0.75zM107.45,529.40h0.75v-12.67h-0.75zM108.20,529.40h0.75v-11.83h-0.75zM108.95,529.40h0.75v-15.42h-0.75zM109.70,529.40h0.75v-20.67h-0.75zM110.45,529.40h0.75v-16.98h-0.75zM111.20,529.40h0.75v-24.75h-0.75zM111.95,529.40h0.75v-26.17h-0.75zM112.70,529.40h0.75v-25.79h-0.75zM113.45,529.40h0.75v-32.18h-0.75zM114.20,529.40h0.75v-23.69h-0.75zM114.95,529.40h0.75v-27.95h-0.75zM115.70,529.40h0.75v-34.87h-0.75zM116.45,529.40h0.75v-22.17h-0.75zM117.20,529.40h0.75v-29.03h-0.75zM117.95,529.40h0.75v-25.09h-0.75zM118.70,529.40h0.75v-19.05h-0.75zM119.45,529.40h0.75v-24.85h-0.75zM120.20,529.40h0.75v-18.67h-0.75zM120.95,529.40h0.75v-18.35h-0.75zM121.70,529.40h0.75v-15.84h-0.75zM122.45,529.40h0.75v-17.70h-0.75zM123.20,529.40h0.75v-15.69h-0.75zM123.95,529.40h0.75v-12.29h-0.75zM124.70,529.40h0.75v-11.52h-0.75zM125.45,529.40h0.75v-8.21h-0.75zM126.20,529.40h0.75v-6.65h-0.75zM126.95,529.40h0.75v-5.33h-0.75zM127.70,529.40h0.75v-3.86h-0.75zM128.45,529.40h0.75v-0.34h-0.75zM129.20,529.40h0.75v-1.35h-0.75zM129.95,529.40h0.75v-1.46h-0.75zM130.70,529.40h0.75v-0.14h-0.75zM131.45,529.40h0.75v-0.11h-0.75zM132.20,529.40h0.75v-1.23h-0.75zM132.95,529.40h0.75v-1.84h-0.75z" fill="#66ee00"/>
<line x1="71.6" y1="465.2" x2="71.6" y2="530.0" stroke="#111" stroke-width="1.2" stroke-linecap="butt"/>
<line x1="70.39999999999999" y1="529.4" x2="138.6" y2="529.4" stroke="#111" stroke-width="1.7" stroke-linecap="butt"/>
<line x1="81.61151786731781" y1="529.4" x2="81.61151786731781" y2="531.6" stroke="#111" stroke-width="0.9" stroke-linecap="butt"/>
<line x1="86.99991039442166" y1="529.4" x2="86.99991039442166" y2="531.6" stroke="#111" stroke-width="0.9" stroke-linecap="butt"/>
<line x1="90.82303573463564" y1="529.4" x2="90.82303573463564" y2="531.6" stroke="#111" stroke-width="0.9" stroke-linecap="butt"/>
<line x1="93.78848213268216" y1="529.4" x2="93.78848213268216" y2="531.6" stroke="#111" stroke-width="0.9" stroke-linecap="butt"/>
<line x1="96.21142826173948" y1="529.4" x2="96.21142826173948" y2="531.6" stroke="#111" stroke-width="0.9" stroke-linecap="butt"/>
<line x1="98.26000002443625" y1="529.4" x2="98.26000002443625" y2="531.6" stroke="#111" stroke-width="0.9" stroke-linecap="butt"/>
<line x1="100.03455360195346" y1="529.4" x2="100.03455360195346" y2="531.6" stroke="#111" stroke-width="0.9" stroke-linecap="butt"/>
<line x1="101.59982078884333" y1="529.4" x2="101.59982078884333" y2="531.6" stroke="#111" stroke-width="0.9" stroke-linecap="butt"/>
<line x1="112.21151786731781" y1="529.4" x2="112.21151786731781" y2="531.6" stroke="#111" stroke-width="0.9" stroke-linecap="butt"/>
<line x1="117.59991039442167" y1="529.4" x2="117.59991039442167" y2="531.6" stroke="#111" stroke-width="0.9" stroke-linecap="butt"/>
<line x1="121.42303573463565" y1="529.4" x2="121.42303573463565" y2="531.6" stroke="#111" stroke-width="0.9" stroke-linecap="butt"/>
<line x1="124.38848213268217" y1="529.4" x2="124.38848213268217" y2="531.6" stroke="#111" stroke-width="0.9" stroke-linecap="butt"/>
<line x1="126.81142826173948" y1="529.4" x2="126.81142826173948" y2="531.6" stroke="#111" stroke-width="0.9" stroke-linecap="butt"/>
<line x1="128.86000002443626" y1="529.4" x2="128.86000002443626" y2="531.6" stroke="#111" stroke-width="0.9" stroke-linecap="butt"/>
<line x1="130.63455360195346" y1="529.4" x2="130.63455360195346" y2="531.6" stroke="#111" stroke-width="0.9" stroke-linecap="butt"/>
<line x1="132.19982078884334" y1="529.4" x2="132.19982078884334" y2="531.6" stroke="#111" stroke-width="0.9" stroke-linecap="butt"/>
<line x1="72.39999999999999" y1="529.4" x2="72.39999999999999" y2="533.0" stroke="#111" stroke-width="1.3" stroke-linecap="butt"/>
<line x1="103.0" y1="529.4" x2="103.0" y2="533.0" stroke="#111" stroke-width="1.3" stroke-linecap="butt"/>
<line x1="133.0" y1="529.4" x2="133.0" y2="533.0" stroke="#111" stroke-width="1.3" stroke-linecap="butt"/>
<polyline points="103.2,494.7 103.2,490.3 129.7,490.3 129.7,494.7" fill="none" stroke="#1a1a1a" stroke-width="1.8"/>
<text x="117.1" y="485.2" font-size="12.5" font-family='"Liberation Serif", serif' font-weight="bold" text-anchor="middle" fill="#111" stroke="#111" stroke-width="0.4">71%</text>
<path d="M151.05,529.40h0.60v-6.02h-0.60zM152.55,529.40h0.60v-6.48h-0.60zM153.30,529.40h0.60v-5.64h-0.60zM154.05,529.40h0.60v-5.46h-0.60zM156.30,529.40h0.60v-6.11h-0.60zM157.05,529.40h0.60v-5.89h-0.60zM161.55,529.40h0.60v-5.59h-0.60zM162.30,529.40h0.60v-5.30h-0.60zM164.55,529.40h0.60v-6.43h-0.60zM169.80,529.40h0.60v-5.71h-0.60zM172.80,529.40h0.60v-5.92h-0.60zM175.05,529.40h0.60v-5.29h-0.60zM175.80,529.40h0.60v-5.55h-0.60z" fill="#eb8c94"/>
<path d="M179.55,529.40h0.60v-23.72h-0.60zM181.80,529.40h0.60v-30.79h-0.60zM182.55,529.40h0.60v-36.11h-0.60zM185.55,529.40h0.60v-41.70h-0.60zM186.30,529.40h0.60v-49.12h-0.60zM187.80,529.40h0.60v-41.20h-0.60zM189.30,529.40h0.60v-41.45h-0.60zM190.05,529.40h0.60v-42.86h-0.60zM196.05,529.40h0.60v-40.70h-0.60zM196.80,529.40h0.60v-44.03h-0.60zM199.80,529.40h0.60v-31.61h-0.60zM202.80,529.40h0.60v-11.51h-0.60zM203.55,529.40h0.60v-6.92h-0.60z" fill="#b6f28a"/>
<path d="M148.80,529.40h0.75v-4.77h-0.75zM149.55,529.40h0.75v-3.40h-0.75zM150.30,529.40h0.75v-3.22h-0.75zM151.05,529.40h0.75v-5.02h-0.75zM151.80,529.40h0.75v-7.16h-0.75zM152.55,529.40h0.75v-4.93h-0.75zM153.30,529.40h0.75v-3.31h-0.75zM154.05,529.40h0.75v-3.41h-0.75zM154.80,529.40h0.75v-3.86h-0.75zM155.55,529.40h0.75v-4.59h-0.75zM156.30,529.40h0.75v-4.36h-0.75zM157.05,529.40h0.75v-3.32h-0.75zM157.80,529.40h0.75v-15.19h-0.75zM158.55,529.40h0.75v-4.54h-0.75zM159.30,529.40h0.75v-5.89h-0.75zM160.05,529.40h0.75v-6.25h-0.75zM160.80,529.40h0.75v-9.65h-0.75zM161.55,529.40h0.75v-5.02h-0.75zM162.30,529.40h0.75v-3.75h-0.75zM163.05,529.40h0.75v-4.97h-0.75zM163.80,529.40h0.75v-5.69h-0.75zM164.55,529.40h0.75v-6.30h-0.75zM165.30,529.40h0.75v-3.41h-0.75zM166.05,529.40h0.75v-9.58h-0.75zM166.80,529.40h0.75v-4.50h-0.75zM167.55,529.40h0.75v-8.91h-0.75zM168.30,529.40h0.75v-4.16h-0.75zM169.05,529.40h0.75v-4.54h-0.75zM169.80,529.40h0.75v-4.60h-0.75zM170.55,529.40h0.75v-14.04h-0.75zM171.30,529.40h0.75v-4.81h-0.75zM172.05,529.40h0.75v-10.40h-0.75zM172.80,529.40h0.75v-4.13h-0.75zM173.55,529.40h0.75v-3.85h-0.75zM174.30,529.40h0.75v-9.99h-0.75zM175.05,529.40h0.75v-4.35h-0.75zM175.80,529.40h0.75v-5.21h-0.75zM176.55,529.40h0.75v-8.62h-0.75zM177.30,529.40h0.75v-5.47h-0.75z" fill="#e41c24"/>
<path d="M178.05,529.40h0.75v-13.51h-0.75zM178.80,529.40h0.75v-16.98h-0.75zM179.55,529.40h0.75v-18.49h-0.75zM180.30,529.40h0.75v-19.88h-0.75zM181.05,529.40h0.75v-18.92h-0.75zM181.80,529.40h0.75v-17.78h-0.75zM182.55,529.40h0.75v-26.05h-0.75zM183.30,529.40h0.75v-29.29h-0.75zM184.05,529.40h0.75v-27.95h-0.75zM184.80,529.40h0.75v-28.00h-0.75zM185.55,529.40h0.75v-28.24h-0.75zM186.30,529.40h0.75v-26.66h-0.75zM187.05,529.40h0.75v-35.65h-0.75zM187.80,529.40h0.75v-34.60h-0.75zM188.55,529.40h0.75v-28.13h-0.75zM189.30,529.40h0.75v-24.09h-0.75zM190.05,529.40h0.75v-26.63h-0.75zM190.80,529.40h0.75v-25.98h-0.75zM191.55,529.40h0.75v-31.78h-0.75zM192.30,529.40h0.75v-33.46h-0.75zM193.05,529.40h0.75v-30.03h-0.75zM193.80,529.40h0.75v-37.21h-0.75zM194.55,529.40h0.75v-38.52h-0.75zM195.30,529.40h0.75v-32.85h-0.75zM196.05,529.40h0.75v-24.55h-0.75zM196.80,529.40h0.75v-25.77h-0.75zM197.55,529.40h0.75v-35.01h-0.75zM198.30,529.40h0.75v-22.04h-0.75zM199.05,529.40h0.75v-26.27h-0.75zM199.80,529.40h0.75v-19.08h-0.75zM200.55,529.40h0.75v-22.90h-0.75zM201.30,529.40h0.75v-18.46h-0.75zM202.05,529.40h0.75v-10.15h-0.75zM202.80,529.40h0.75v-10.62h-0.75zM203.55,529.40h0.75v-6.58h-0.75zM204.30,529.40h0.75v-1.83h-0.75zM205.05,529.40h0.75v-2.11h-0.75zM205.80,529.40h0.75v-3.18h-0.75zM206.55,529.40h0.75v-1.34h-0.75zM207.30,529.40h0.75v-1.67h-0.75zM208.05,529.40h0.75v-1.52h-0.75zM208.80,529.40h0.75v-0.70h-0.75zM209.55,529.40h0.75v-0.56h-0.75z" fill="#66ee00"/>
<line x1="148.2" y1="465.2" x2="148.2" y2="530.0" stroke="#111" stroke-width="1.2" stroke-linecap="butt"/>
<line x1="147.0" y1="529.4" x2="215.2" y2="529.4" stroke="#111" stroke-width="1.7" stroke-linecap="butt"/>
<line x1="157.97069387078665" y1="529.4" x2="157.97069387078665" y2="531.6" stroke="#111" stroke-width="0.9" stroke-linecap="butt"/>
<line x1="163.21821339064593" y1="529.4" x2="163.21821339064593" y2="531.6" stroke="#111" stroke-width="0.9" stroke-linecap="butt"/>
<line x1="166.9413877415733" y1="529.4" x2="166.9413877415733" y2="531.6" stroke="#111" stroke-width="0.9" stroke-linecap="butt"/>
<line x1="169.82930612921336" y1="529.4" x2="169.82930612921336" y2="531.6" stroke="#111" stroke-width="0.9" stroke-linecap="butt"/>
<line x1="172.18890726143258" y1="529.4" x2="172.18890726143258" y2="531.6" stroke="#111" stroke-width="0.9" stroke-linecap="butt"/>
<line x1="174.18392159242484" y1="529.4" x2="174.18392159242484" y2="531.6" stroke="#111" stroke-width="0.9" stroke-linecap="butt"/>
<line x1="175.9120816123599" y1="529.4" x2="175.9120816123599" y2="531.6" stroke="#111" stroke-width="0.9" stroke-linecap="butt"/>
<line x1="177.43642678129189" y1="529.4" x2="177.43642678129189" y2="531.6" stroke="#111" stroke-width="0.9" stroke-linecap="butt"/>
<line x1="187.77069387078666" y1="529.4" x2="187.77069387078666" y2="531.6" stroke="#111" stroke-width="0.9" stroke-linecap="butt"/>
<line x1="193.01821339064594" y1="529.4" x2="193.01821339064594" y2="531.6" stroke="#111" stroke-width="0.9" stroke-linecap="butt"/>
<line x1="196.74138774157328" y1="529.4" x2="196.74138774157328" y2="531.6" stroke="#111" stroke-width="0.9" stroke-linecap="butt"/>
<line x1="199.62930612921338" y1="529.4" x2="199.62930612921338" y2="531.6" stroke="#111" stroke-width="0.9" stroke-linecap="butt"/>
<line x1="201.9889072614326" y1="529.4" x2="201.9889072614326" y2="531.6" stroke="#111" stroke-width="0.9" stroke-linecap="butt"/>
<line x1="203.98392159242485" y1="529.4" x2="203.98392159242485" y2="531.6" stroke="#111" stroke-width="0.9" stroke-linecap="butt"/>
<line x1="205.71208161235992" y1="529.4" x2="205.71208161235992" y2="531.6" stroke="#111" stroke-width="0.9" stroke-linecap="butt"/>
<line x1="207.23642678129187" y1="529.4" x2="207.23642678129187" y2="531.6" stroke="#111" stroke-width="0.9" stroke-linecap="butt"/>
<line x1="149.0" y1="529.4" x2="149.0" y2="533.0" stroke="#111" stroke-width="1.3" stroke-linecap="butt"/>
<line x1="178.8" y1="529.4" x2="178.8" y2="533.0" stroke="#111" stroke-width="1.3" stroke-linecap="butt"/>
<line x1="208.8" y1="529.4" x2="208.8" y2="533.0" stroke="#111" stroke-width="1.3" stroke-linecap="butt"/>
<polyline points="178.4,494.7 178.4,490.3 205.0,490.3 205.0,494.7" fill="none" stroke="#1a1a1a" stroke-width="1.8"/>
<text x="192.4" y="485.2" font-size="12.5" font-family='"Liberation Serif", serif' font-weight="bold" text-anchor="middle" fill="#111" stroke="#111" stroke-width="0.4">71%</text>
<path d="M238.25,529.40h0.60v-17.75h-0.60zM239.75,529.40h0.60v-13.72h-0.60zM251.75,529.40h0.60v-26.25h-0.60zM252.50,529.40h0.60v-26.86h-0.60zM253.25,529.40h0.60v-21.32h-0.60zM254.00,529.40h0.60v-18.82h-0.60zM254.75,529.40h0.60v-16.86h-0.60zM255.50,529.40h0.60v-13.69h-0.60zM256.25,529.40h0.60v-14.07h-0.60zM257.00,529.40h0.60v-11.04h-0.60z" fill="#eb8c94"/>
<path d="M228.50,529.40h0.75v-0.00h-0.75zM229.25,529.40h0.75v-0.00h-0.75zM230.00,529.40h0.75v-0.00h-0.75zM230.75,529.40h0.75v-0.00h-0.75zM231.50,529.40h0.75v-0.00h-0.75zM232.25,529.40h0.75v-0.00h-0.75zM233.00,529.40h0.75v-0.00h-0.75zM233.75,529.40h0.75v-0.00h-0.75zM234.50,529.40h0.75v-0.00h-0.75zM235.25,529.40h0.75v-2.54h-0.75zM236.00,529.40h0.75v-6.41h-0.75zM236.75,529.40h0.75v-11.01h-0.75zM237.50,529.40h0.75v-12.63h-0.75zM238.25,529.40h0.75v-12.71h-0.75zM239.00,529.40h0.75v-11.32h-0.75zM239.75,529.40h0.75v-9.98h-0.75zM240.50,529.40h0.75v-11.27h-0.75zM241.25,529.40h0.75v-21.57h-0.75zM242.00,529.40h0.75v-28.16h-0.75zM242.75,529.40h0.75v-25.96h-0.75zM243.50,529.40h0.75v-24.82h-0.75zM244.25,529.40h0.75v-21.91h-0.75zM245.00,529.40h0.75v-21.36h-0.75zM245.75,529.40h0.75v-25.91h-0.75zM246.50,529.40h0.75v-25.94h-0.75zM247.25,529.40h0.75v-26.15h-0.75zM248.00,529.40h0.75v-26.32h-0.75zM248.75,529.40h0.75v-24.87h-0.75zM249.50,529.40h0.75v-25.88h-0.75zM250.25,529.40h0.75v-24.03h-0.75zM251.00,529.40h0.75v-22.34h-0.75zM251.75,529.40h0.75v-21.70h-0.75zM252.50,529.40h0.75v-19.81h-0.75zM253.25,529.40h0.75v-16.18h-0.75zM254.00,529.40h0.75v-12.34h-0.75zM254.75,529.40h0.75v-11.50h-0.75zM255.50,529.40h0.75v-10.14h-0.75zM256.25,529.40h0.75v-10.62h-0.75zM257.00,529.40h0.75v-7.83h-0.75zM257.75,529.40h0.75v-8.77h-0.75z" fill="#e41c24"/>
<path d="M258.50,529.40h0.75v-3.57h-0.75zM259.25,529.40h0.75v-6.45h-0.75zM260.00,529.40h0.75v-5.27h-0.75zM260.75,529.40h0.75v-13.30h-0.75zM261.50,529.40h0.75v-6.07h-0.75zM262.25,529.40h0.75v-4.30h-0.75zM263.00,529.40h0.75v-2.17h-0.75zM263.75,529.40h0.75v-3.76h-0.75zM264.50,529.40h0.75v-13.38h-0.75zM265.25,529.40h0.75v-5.27h-0.75zM266.00,529.40h0.75v-3.67h-0.75zM266.75,529.40h0.75v-9.36h-0.75zM267.50,529.40h0.75v-3.46h-0.75zM268.25,529.40h0.75v-1.89h-0.75zM269.00,529.40h0.75v-5.77h-0.75zM269.75,529.40h0.75v-4.07h-0.75zM270.50,529.40h0.75v-2.92h-0.75zM271.25,529.40h0.75v-2.63h-0.75zM272.00,529.40h0.75v-3.63h-0.75zM272.75,529.40h0.75v-2.66h-0.75zM273.50,529.40h0.75v-3.86h-0.75zM274.25,529.40h0.75v-5.17h-0.75zM275.00,529.40h0.75v-14.46h-0.75zM275.75,529.40h0.75v-2.48h-0.75zM276.50,529.40h0.75v-11.49h-0.75zM277.25,529.40h0.75v-3.93h-0.75zM278.00,529.40h0.75v-2.70h-0.75zM278.75,529.40h0.75v-4.52h-0.75zM279.50,529.40h0.75v-5.76h-0.75zM280.25,529.40h0.75v-4.71h-0.75zM281.00,529.40h0.75v-12.56h-0.75zM281.75,529.40h0.75v-4.21h-0.75zM282.50,529.40h0.75v-5.37h-0.75zM283.25,529.40h0.75v-5.14h-0.75zM284.00,529.40h0.75v-2.21h-0.75zM284.75,529.40h0.75v-0.09h-0.75zM285.50,529.40h0.75v-2.78h-0.75zM286.25,529.40h0.75v-8.47h-0.75zM287.00,529.40h0.75v-0.74h-0.75zM287.75,529.40h0.75v-15.75h-0.75zM288.50,529.40h0.75v-10.11h-0.75zM289.25,529.40h0.75v-0.25h-0.75z" fill="#66ee00"/>
<line x1="227.9" y1="465.2" x2="227.9" y2="530.0" stroke="#111" stroke-width="1.2" stroke-linecap="butt"/>
<line x1="226.70000000000002" y1="529.4" x2="294.9" y2="529.4" stroke="#111" stroke-width="1.7" stroke-linecap="butt"/>
<line x1="237.82120886861864" y1="529.4" x2="237.82120886861864" y2="531.6" stroke="#111" stroke-width="0.9" stroke-linecap="butt"/>
<line x1="243.1567740180058" y1="529.4" x2="243.1567740180058" y2="531.6" stroke="#111" stroke-width="0.9" stroke-linecap="butt"/>
<line x1="246.9424177372373" y1="529.4" x2="246.9424177372373" y2="531.6" stroke="#111" stroke-width="0.9" stroke-linecap="butt"/>
<line x1="249.87879113138138" y1="529.4" x2="249.87879113138138" y2="531.6" stroke="#111" stroke-width="0.9" stroke-linecap="butt"/>
<line x1="252.27798288662441" y1="529.4" x2="252.27798288662441" y2="531.6" stroke="#111" stroke-width="0.9" stroke-linecap="butt"/>
<line x1="254.306470612432" y1="529.4" x2="254.306470612432" y2="531.6" stroke="#111" stroke-width="0.9" stroke-linecap="butt"/>
<line x1="256.0636266058559" y1="529.4" x2="256.0636266058559" y2="531.6" stroke="#111" stroke-width="0.9" stroke-linecap="butt"/>
<line x1="257.61354803601154" y1="529.4" x2="257.61354803601154" y2="531.6" stroke="#111" stroke-width="0.9" stroke-linecap="butt"/>
<line x1="268.1212088686186" y1="529.4" x2="268.1212088686186" y2="531.6" stroke="#111" stroke-width="0.9" stroke-linecap="butt"/>
<line x1="273.4567740180058" y1="529.4" x2="273.4567740180058" y2="531.6" stroke="#111" stroke-width="0.9" stroke-linecap="butt"/>
<line x1="277.2424177372373" y1="529.4" x2="277.2424177372373" y2="531.6" stroke="#111" stroke-width="0.9" stroke-linecap="butt"/>
<line x1="280.1787911313814" y1="529.4" x2="280.1787911313814" y2="531.6" stroke="#111" stroke-width="0.9" stroke-linecap="butt"/>
<line x1="282.5779828866244" y1="529.4" x2="282.5779828866244" y2="531.6" stroke="#111" stroke-width="0.9" stroke-linecap="butt"/>
<line x1="284.606470612432" y1="529.4" x2="284.606470612432" y2="531.6" stroke="#111" stroke-width="0.9" stroke-linecap="butt"/>
<line x1="286.3636266058559" y1="529.4" x2="286.3636266058559" y2="531.6" stroke="#111" stroke-width="0.9" stroke-linecap="butt"/>
<line x1="287.91354803601155" y1="529.4" x2="287.91354803601155" y2="531.6" stroke="#111" stroke-width="0.9" stroke-linecap="butt"/>
<line x1="228.70000000000002" y1="529.4" x2="228.70000000000002" y2="533.0" stroke="#111" stroke-width="1.3" stroke-linecap="butt"/>
<line x1="259.0" y1="529.4" x2="259.0" y2="533.0" stroke="#111" stroke-width="1.3" stroke-linecap="butt"/>
<line x1="289.0" y1="529.4" x2="289.0" y2="533.0" stroke="#111" stroke-width="1.3" stroke-linecap="butt"/>
<polyline points="259.4,494.7 259.4,490.3 286.0,490.3 286.0,494.7" fill="none" stroke="#1a1a1a" stroke-width="1.8"/>
<text x="274.2" y="485.2" font-size="12.5" font-family='"Liberation Serif", serif' font-weight="bold" text-anchor="middle" fill="#111" stroke="#111" stroke-width="0.4">15%</text>
<text x="68.3" y="497.29999999999995" font-size="12.5" font-family='"Liberation Serif", serif' text-anchor="middle" fill="#111" stroke="#111" stroke-width="0.4" transform="rotate(-90 68.3 497.29999999999995)">Cell Count</text>
<path d="M79.45,598.00h0.60v-5.25h-0.60zM86.20,598.00h0.60v-28.20h-0.60zM86.95,598.00h0.60v-26.13h-0.60zM91.45,598.00h0.60v-36.59h-0.60zM92.20,598.00h0.60v-37.73h-0.60zM92.95,598.00h0.60v-33.86h-0.60zM93.70,598.00h0.60v-28.34h-0.60zM99.70,598.00h0.60v-4.69h-0.60zM100.45,598.00h0.60v-4.91h-0.60z" fill="#eb8c94"/>
<path d="M103.45,598.00h0.60v-19.90h-0.60zM105.70,598.00h0.60v-25.13h-0.60zM108.70,598.00h0.60v-29.43h-0.60zM110.20,598.00h0.60v-35.31h-0.60zM110.95,598.00h0.60v-35.59h-0.60zM111.70,598.00h0.60v-38.96h-0.60zM115.45,598.00h0.60v-50.04h-0.60zM116.20,598.00h0.60v-54.01h-0.60zM118.45,598.00h0.60v-38.42h-0.60zM119.20,598.00h0.60v-38.62h-0.60zM120.70,598.00h0.60v-31.75h-0.60zM121.45,598.00h0.60v-31.88h-0.60zM122.95,598.00h0.60v-22.04h-0.60zM125.20,598.00h0.60v-16.34h-0.60z" fill="#b6f28a"/>
<path d="M71.20,598.00h0.75v-1.22h-0.75zM71.95,598.00h0.75v-0.38h-0.75zM72.70,598.00h0.75v-0.98h-0.75zM73.45,598.00h0.75v-0.31h-0.75zM74.20,598.00h0.75v-0.51h-0.75zM74.95,598.00h0.75v-0.62h-0.75zM75.70,598.00h0.75v-1.96h-0.75zM76.45,598.00h0.75v-0.64h-0.75zM77.20,598.00h0.75v-1.00h-0.75zM77.95,598.00h0.75v-2.03h-0.75zM78.70,598.00h0.75v-4.97h-0.75zM79.45,598.00h0.75v-3.54h-0.75zM80.20,598.00h0.75v-4.36h-0.75zM80.95,598.00h0.75v-5.31h-0.75zM81.70,598.00h0.75v-3.70h-0.75zM82.45,598.00h0.75v-6.22h-0.75zM83.20,598.00h0.75v-4.26h-0.75zM83.95,598.00h0.75v-3.21h-0.75zM84.70,598.00h0.75v-5.94h-0.75zM85.45,598.00h0.75v-15.32h-0.75zM86.20,598.00h0.75v-15.22h-0.75zM86.95,598.00h0.75v-18.97h-0.75zM87.70,598.00h0.75v-21.96h-0.75zM88.45,598.00h0.75v-30.74h-0.75zM89.20,598.00h0.75v-28.74h-0.75zM89.95,598.00h0.75v-24.77h-0.75zM90.70,598.00h0.75v-33.00h-0.75zM91.45,598.00h0.75v-22.39h-0.75zM92.20,598.00h0.75v-19.27h-0.75zM92.95,598.00h0.75v-22.34h-0.75zM93.70,598.00h0.75v-15.44h-0.75zM94.45,598.00h0.75v-17.56h-0.75zM95.20,598.00h0.75v-8.64h-0.75zM95.95,598.00h0.75v-3.84h-0.75zM96.70,598.00h0.75v-3.39h-0.75zM97.45,598.00h0.75v-3.76h-0.75zM98.20,598.00h0.75v-4.41h-0.75zM98.95,598.00h0.75v-3.29h-0.75zM99.70,598.00h0.75v-3.39h-0.75zM100.45,598.00h0.75v-2.89h-0.75z" fill="#e41c24"/>
<path d="M101.20,598.00h0.75v-6.79h-0.75zM101.95,598.00h0.75v-8.87h-0.75zM102.70,598.00h0.75v-11.68h-0.75zM103.45,598.00h0.75v-14.57h-0.75zM104.20,598.00h0.75v-16.27h-0.75zM104.95,598.00h0.75v-15.67h-0.75zM105.70,598.00h0.75v-22.15h-0.75zM106.45,598.00h0.75v-15.06h-0.75zM107.20,598.00h0.75v-17.17h-0.75zM107.95,598.00h0.75v-15.11h-0.75zM108.70,598.00h0.75v-21.70h-0.75zM109.45,598.00h0.75v-21.51h-0.75zM110.20,598.00h0.75v-22.64h-0.75zM110.95,598.00h0.75v-26.48h-0.75zM111.70,598.00h0.75v-34.34h-0.75zM112.45,598.00h0.75v-35.89h-0.75zM113.20,598.00h0.75v-34.84h-0.75zM113.95,598.00h0.75v-29.94h-0.75zM114.70,598.00h0.75v-40.28h-0.75zM115.45,598.00h0.75v-32.21h-0.75zM116.20,598.00h0.75v-28.54h-0.75zM116.95,598.00h0.75v-27.06h-0.75zM117.70,598.00h0.75v-27.93h-0.75zM118.45,598.00h0.75v-34.26h-0.75zM119.20,598.00h0.75v-28.48h-0.75zM119.95,598.00h0.75v-29.98h-0.75zM120.70,598.00h0.75v-21.58h-0.75zM121.45,598.00h0.75v-25.32h-0.75zM122.20,598.00h0.75v-16.33h-0.75zM122.95,598.00h0.75v-19.99h-0.75zM123.70,598.00h0.75v-13.88h-0.75zM124.45,598.00h0.75v-11.72h-0.75zM125.20,598.00h0.75v-10.22h-0.75zM125.95,598.00h0.75v-11.37h-0.75zM126.70,598.00h0.75v-8.56h-0.75zM127.45,598.00h0.75v-9.14h-0.75zM128.20,598.00h0.75v-4.58h-0.75zM128.95,598.00h0.75v-3.26h-0.75zM129.70,598.00h0.75v-1.67h-0.75zM130.45,598.00h0.75v-2.67h-0.75zM131.20,598.00h0.75v-0.70h-0.75zM131.95,598.00h0.75v-0.52h-0.75z" fill="#66ee00"/>
<line x1="70.6" y1="534.4" x2="70.6" y2="598.6" stroke="#111" stroke-width="1.2" stroke-linecap="butt"/>
<line x1="69.39999999999999" y1="598.0" x2="137.6" y2="598.0" stroke="#111" stroke-width="1.7" stroke-linecap="butt"/>
<line x1="80.49110586905222" y1="598.0" x2="80.49110586905222" y2="600.2" stroke="#111" stroke-width="0.9" stroke-linecap="butt"/>
<line x1="85.80906189253379" y1="598.0" x2="85.80906189253379" y2="600.2" stroke="#111" stroke-width="0.9" stroke-linecap="butt"/>
<line x1="89.58221173810446" y1="598.0" x2="89.58221173810446" y2="600.2" stroke="#111" stroke-width="0.9" stroke-linecap="butt"/>
<line x1="92.50889413094777" y1="598.0" x2="92.50889413094777" y2="600.2" stroke="#111" stroke-width="0.9" stroke-linecap="butt"/>
<line x1="94.90016776158603" y1="598.0" x2="94.90016776158603" y2="600.2" stroke="#111" stroke-width="0.9" stroke-linecap="butt"/>
<line x1="96.92196080843055" y1="598.0" x2="96.92196080843055" y2="600.2" stroke="#111" stroke-width="0.9" stroke-linecap="butt"/>
<line x1="98.67331760715669" y1="598.0" x2="98.67331760715669" y2="600.2" stroke="#111" stroke-width="0.9" stroke-linecap="butt"/>
<line x1="100.2181237850676" y1="598.0" x2="100.2181237850676" y2="600.2" stroke="#111" stroke-width="0.9" stroke-linecap="butt"/>
<line x1="110.69110586905222" y1="598.0" x2="110.69110586905222" y2="600.2" stroke="#111" stroke-width="0.9" stroke-linecap="butt"/>
<line x1="116.0090618925338" y1="598.0" x2="116.0090618925338" y2="600.2" stroke="#111" stroke-width="0.9" stroke-linecap="butt"/>
<line x1="119.78221173810445" y1="598.0" x2="119.78221173810445" y2="600.2" stroke="#111" stroke-width="0.9" stroke-linecap="butt"/>
<line x1="122.70889413094775" y1="598.0" x2="122.70889413094775" y2="600.2" stroke="#111" stroke-width="0.9" stroke-linecap="butt"/>
<line x1="125.10016776158602" y1="598.0" x2="125.10016776158602" y2="600.2" stroke="#111" stroke-width="0.9" stroke-linecap="butt"/>
<line x1="127.12196080843054" y1="598.0" x2="127.12196080843054" y2="600.2" stroke="#111" stroke-width="0.9" stroke-linecap="butt"/>
<line x1="128.87331760715668" y1="598.0" x2="128.87331760715668" y2="600.2" stroke="#111" stroke-width="0.9" stroke-linecap="butt"/>
<line x1="130.4181237850676" y1="598.0" x2="130.4181237850676" y2="600.2" stroke="#111" stroke-width="0.9" stroke-linecap="butt"/>
<line x1="71.39999999999999" y1="598.0" x2="71.39999999999999" y2="601.6" stroke="#111" stroke-width="1.3" stroke-linecap="butt"/>
<line x1="101.6" y1="598.0" x2="101.6" y2="601.6" stroke="#111" stroke-width="1.3" stroke-linecap="butt"/>
<line x1="131.6" y1="598.0" x2="131.6" y2="601.6" stroke="#111" stroke-width="1.3" stroke-linecap="butt"/>
<polyline points="103.2,564.4 103.2,560.0 130.6,560.0 130.6,564.4" fill="none" stroke="#1a1a1a" stroke-width="1.8"/>
<text x="119.2" y="552.0" font-size="12.5" font-family='"Liberation Serif", serif' font-weight="bold" text-anchor="middle" fill="#111" stroke="#111" stroke-width="0.4">68%</text>
<path d="M177.60,598.00h0.60v-17.62h-0.60zM178.35,598.00h0.60v-20.87h-0.60zM179.85,598.00h0.60v-25.85h-0.60zM182.10,598.00h0.60v-28.92h-0.60zM185.10,598.00h0.60v-36.29h-0.60zM188.10,598.00h0.60v-44.81h-0.60zM191.10,598.00h0.60v-52.51h-0.60zM191.85,598.00h0.60v-47.37h-0.60zM194.10,598.00h0.60v-51.79h-0.60zM194.85,598.00h0.60v-45.15h-0.60zM197.85,598.00h0.60v-38.42h-0.60zM198.60,598.00h0.60v-30.73h-0.60zM200.85,598.00h0.60v-20.81h-0.60zM201.60,598.00h0.60v-17.84h-0.60z" fill="#b6f28a"/>
<path d="M147.60,598.00h0.75v-15.99h-0.75zM148.35,598.00h0.75v-0.33h-0.75zM149.10,598.00h0.75v-0.05h-0.75zM149.85,598.00h0.75v-3.36h-0.75zM150.60,598.00h0.75v-14.86h-0.75zM151.35,598.00h0.75v-0.11h-0.75zM152.10,598.00h0.75v-0.14h-0.75zM152.85,598.00h0.75v-0.19h-0.75zM153.60,598.00h0.75v-0.19h-0.75zM154.35,598.00h0.75v-0.18h-0.75zM155.10,598.00h0.75v-0.23h-0.75zM155.85,598.00h0.75v-0.26h-0.75zM156.60,598.00h0.75v-2.92h-0.75zM157.35,598.00h0.75v-0.28h-0.75zM158.10,598.00h0.75v-0.36h-0.75zM158.85,598.00h0.75v-3.40h-0.75zM159.60,598.00h0.75v-0.33h-0.75zM160.35,598.00h0.75v-0.29h-0.75zM161.10,598.00h0.75v-2.35h-0.75zM161.85,598.00h0.75v-0.40h-0.75zM162.60,598.00h0.75v-6.29h-0.75zM163.35,598.00h0.75v-1.73h-0.75zM164.10,598.00h0.75v-3.27h-0.75zM164.85,598.00h0.75v-4.42h-0.75zM165.60,598.00h0.75v-0.60h-0.75zM166.35,598.00h0.75v-0.52h-0.75zM167.10,598.00h0.75v-0.67h-0.75zM167.85,598.00h0.75v-0.62h-0.75zM168.60,598.00h0.75v-5.53h-0.75zM169.35,598.00h0.75v-0.47h-0.75zM170.10,598.00h0.75v-0.58h-0.75zM170.85,598.00h0.75v-0.62h-0.75zM171.60,598.00h0.75v-7.28h-0.75zM172.35,598.00h0.75v-1.70h-0.75zM173.10,598.00h0.75v-0.91h-0.75zM173.85,598.00h0.75v-5.28h-0.75zM174.60,598.00h0.75v-8.35h-0.75zM175.35,598.00h0.75v-0.72h-0.75zM176.10,598.00h0.75v-0.77h-0.75zM176.85,598.00h0.75v-1.60h-0.75z" fill="#e41c24"/>
<path d="M177.60,598.00h0.75v-14.66h-0.75zM178.35,598.00h0.75v-13.55h-0.75zM179.10,598.00h0.75v-19.51h-0.75zM179.85,598.00h0.75v-14.52h-0.75zM180.60,598.00h0.75v-16.99h-0.75zM181.35,598.00h0.75v-24.49h-0.75zM182.10,598.00h0.75v-22.61h-0.75zM182.85,598.00h0.75v-24.03h-0.75zM183.60,598.00h0.75v-22.24h-0.75zM184.35,598.00h0.75v-25.13h-0.75zM185.10,598.00h0.75v-21.05h-0.75zM185.85,598.00h0.75v-25.24h-0.75zM186.60,598.00h0.75v-30.54h-0.75zM187.35,598.00h0.75v-34.75h-0.75zM188.10,598.00h0.75v-24.65h-0.75zM188.85,598.00h0.75v-31.90h-0.75zM189.60,598.00h0.75v-39.54h-0.75zM190.35,598.00h0.75v-39.01h-0.75zM191.10,598.00h0.75v-29.42h-0.75zM191.85,598.00h0.75v-30.19h-0.75zM192.60,598.00h0.75v-32.67h-0.75zM193.35,598.00h0.75v-31.23h-0.75zM194.10,598.00h0.75v-32.55h-0.75zM194.85,598.00h0.75v-26.98h-0.75zM195.60,598.00h0.75v-38.14h-0.75zM196.35,598.00h0.75v-33.90h-0.75zM197.10,598.00h0.75v-26.16h-0.75zM197.85,598.00h0.75v-27.66h-0.75zM198.60,598.00h0.75v-23.21h-0.75zM199.35,598.00h0.75v-20.92h-0.75zM200.10,598.00h0.75v-20.04h-0.75zM200.85,598.00h0.75v-17.56h-0.75zM201.60,598.00h0.75v-13.02h-0.75zM202.35,598.00h0.75v-11.41h-0.75zM203.10,598.00h0.75v-7.54h-0.75zM203.85,598.00h0.75v-5.19h-0.75zM204.60,598.00h0.75v-2.23h-0.75zM205.35,598.00h0.75v-2.12h-0.75zM206.10,598.00h0.75v-1.40h-0.75zM206.85,598.00h0.75v-0.58h-0.75zM207.60,598.00h0.75v-1.20h-0.75zM208.35,598.00h0.75v-0.23h-0.75z" fill="#66ee00"/>
<line x1="147.0" y1="534.4" x2="147.0" y2="598.6" stroke="#111" stroke-width="1.2" stroke-linecap="butt"/>
<line x1="145.8" y1="598.0" x2="214.0" y2="598.0" stroke="#111" stroke-width="1.7" stroke-linecap="butt"/>
<line x1="157.01151786731785" y1="598.0" x2="157.01151786731785" y2="600.2" stroke="#111" stroke-width="0.9" stroke-linecap="butt"/>
<line x1="162.39991039442168" y1="598.0" x2="162.39991039442168" y2="600.2" stroke="#111" stroke-width="0.9" stroke-linecap="butt"/>
<line x1="166.22303573463566" y1="598.0" x2="166.22303573463566" y2="600.2" stroke="#111" stroke-width="0.9" stroke-linecap="butt"/>
<line x1="169.1884821326822" y1="598.0" x2="169.1884821326822" y2="600.2" stroke="#111" stroke-width="0.9" stroke-linecap="butt"/>
<line x1="171.61142826173952" y1="598.0" x2="171.61142826173952" y2="600.2" stroke="#111" stroke-width="0.9" stroke-linecap="butt"/>
<line x1="173.66000002443627" y1="598.0" x2="173.66000002443627" y2="600.2" stroke="#111" stroke-width="0.9" stroke-linecap="butt"/>
<line x1="175.4345536019535" y1="598.0" x2="175.4345536019535" y2="600.2" stroke="#111" stroke-width="0.9" stroke-linecap="butt"/>
<line x1="176.99982078884335" y1="598.0" x2="176.99982078884335" y2="600.2" stroke="#111" stroke-width="0.9" stroke-linecap="butt"/>
<line x1="187.61151786731784" y1="598.0" x2="187.61151786731784" y2="600.2" stroke="#111" stroke-width="0.9" stroke-linecap="butt"/>
<line x1="192.99991039442168" y1="598.0" x2="192.99991039442168" y2="600.2" stroke="#111" stroke-width="0.9" stroke-linecap="butt"/>
<line x1="196.82303573463565" y1="598.0" x2="196.82303573463565" y2="600.2" stroke="#111" stroke-width="0.9" stroke-linecap="butt"/>
<line x1="199.7884821326822" y1="598.0" x2="199.7884821326822" y2="600.2" stroke="#111" stroke-width="0.9" stroke-linecap="butt"/>
<line x1="202.2114282617395" y1="598.0" x2="202.2114282617395" y2="600.2" stroke="#111" stroke-width="0.9" stroke-linecap="butt"/>
<line x1="204.26000002443627" y1="598.0" x2="204.26000002443627" y2="600.2" stroke="#111" stroke-width="0.9" stroke-linecap="butt"/>
<line x1="206.0345536019535" y1="598.0" x2="206.0345536019535" y2="600.2" stroke="#111" stroke-width="0.9" stroke-linecap="butt"/>
<line x1="207.59982078884335" y1="598.0" x2="207.59982078884335" y2="600.2" stroke="#111" stroke-width="0.9" stroke-linecap="butt"/>
<line x1="147.8" y1="598.0" x2="147.8" y2="601.6" stroke="#111" stroke-width="1.3" stroke-linecap="butt"/>
<line x1="178.4" y1="598.0" x2="178.4" y2="601.6" stroke="#111" stroke-width="1.3" stroke-linecap="butt"/>
<line x1="208.4" y1="598.0" x2="208.4" y2="601.6" stroke="#111" stroke-width="1.3" stroke-linecap="butt"/>
<polyline points="178.4,565.4 178.4,561.0 207.2,561.0 207.2,565.4" fill="none" stroke="#1a1a1a" stroke-width="1.8"/>
<text x="193.9" y="552.0" font-size="12.5" font-family='"Liberation Serif", serif' font-weight="bold" text-anchor="middle" fill="#111" stroke="#111" stroke-width="0.4">78%</text>
<path d="M258.40,598.00h0.60v-15.17h-0.60zM259.90,598.00h0.60v-22.76h-0.60zM261.40,598.00h0.60v-27.54h-0.60zM262.90,598.00h0.60v-29.62h-0.60zM269.65,598.00h0.60v-46.27h-0.60zM272.65,598.00h0.60v-42.73h-0.60zM274.15,598.00h0.60v-37.46h-0.60zM277.15,598.00h0.60v-31.69h-0.60zM280.90,598.00h0.60v-23.25h-0.60zM282.40,598.00h0.60v-17.60h-0.60zM283.15,598.00h0.60v-15.88h-0.60zM283.90,598.00h0.60v-12.15h-0.60zM286.15,598.00h0.60v-8.45h-0.60z" fill="#b6f28a"/>
<path d="M226.90,598.00h0.75v-8.31h-0.75zM227.65,598.00h0.75v-7.33h-0.75zM228.40,598.00h0.75v-9.09h-0.75zM229.15,598.00h0.75v-0.00h-0.75zM229.90,598.00h0.75v-0.00h-0.75zM230.65,598.00h0.75v-0.00h-0.75zM231.40,598.00h0.75v-0.00h-0.75zM232.15,598.00h0.75v-0.00h-0.75zM232.90,598.00h0.75v-6.53h-0.75zM233.65,598.00h0.75v-4.66h-0.75zM234.40,598.00h0.75v-0.00h-0.75zM235.15,598.00h0.75v-0.00h-0.75zM235.90,598.00h0.75v-0.00h-0.75zM236.65,598.00h0.75v-0.00h-0.75zM237.40,598.00h0.75v-10.84h-0.75zM238.15,598.00h0.75v-0.00h-0.75zM238.90,598.00h0.75v-0.00h-0.75zM239.65,598.00h0.75v-0.00h-0.75zM240.40,598.00h0.75v-7.48h-0.75zM241.15,598.00h0.75v-5.08h-0.75zM241.90,598.00h0.75v-0.00h-0.75zM242.65,598.00h0.75v-0.00h-0.75zM243.40,598.00h0.75v-0.00h-0.75zM244.15,598.00h0.75v-0.00h-0.75zM244.90,598.00h0.75v-0.00h-0.75zM245.65,598.00h0.75v-0.00h-0.75zM246.40,598.00h0.75v-0.00h-0.75zM247.15,598.00h0.75v-8.11h-0.75zM247.90,598.00h0.75v-0.00h-0.75zM248.65,598.00h0.75v-0.00h-0.75zM249.40,598.00h0.75v-8.90h-0.75zM250.15,598.00h0.75v-9.02h-0.75zM250.90,598.00h0.75v-0.00h-0.75zM251.65,598.00h0.75v-10.19h-0.75zM252.40,598.00h0.75v-0.00h-0.75zM253.15,598.00h0.75v-0.00h-0.75zM253.90,598.00h0.75v-0.00h-0.75zM254.65,598.00h0.75v-0.00h-0.75zM255.40,598.00h0.75v-6.14h-0.75zM256.15,598.00h0.75v-0.00h-0.75zM256.90,598.00h0.75v-0.00h-0.75z" fill="#e41c24"/>
<path d="M257.65,598.00h0.75v-10.25h-0.75zM258.40,598.00h0.75v-12.35h-0.75zM259.15,598.00h0.75v-12.47h-0.75zM259.90,598.00h0.75v-14.70h-0.75zM260.65,598.00h0.75v-20.08h-0.75zM261.40,598.00h0.75v-19.04h-0.75zM262.15,598.00h0.75v-22.56h-0.75zM262.90,598.00h0.75v-24.49h-0.75zM263.65,598.00h0.75v-23.21h-0.75zM264.40,598.00h0.75v-27.95h-0.75zM265.15,598.00h0.75v-29.89h-0.75zM265.90,598.00h0.75v-34.20h-0.75zM266.65,598.00h0.75v-28.19h-0.75zM267.40,598.00h0.75v-29.29h-0.75zM268.15,598.00h0.75v-27.77h-0.75zM268.90,598.00h0.75v-30.26h-0.75zM269.65,598.00h0.75v-27.91h-0.75zM270.40,598.00h0.75v-35.64h-0.75zM271.15,598.00h0.75v-33.74h-0.75zM271.90,598.00h0.75v-40.37h-0.75zM272.65,598.00h0.75v-35.08h-0.75zM273.40,598.00h0.75v-27.53h-0.75zM274.15,598.00h0.75v-31.77h-0.75zM274.90,598.00h0.75v-27.71h-0.75zM275.65,598.00h0.75v-20.34h-0.75zM276.40,598.00h0.75v-23.49h-0.75zM277.15,598.00h0.75v-24.33h-0.75zM277.90,598.00h0.75v-19.35h-0.75zM278.65,598.00h0.75v-19.77h-0.75zM279.40,598.00h0.75v-20.72h-0.75zM280.15,598.00h0.75v-21.68h-0.75zM280.90,598.00h0.75v-20.94h-0.75zM281.65,598.00h0.75v-15.40h-0.75zM282.40,598.00h0.75v-13.52h-0.75zM283.15,598.00h0.75v-13.83h-0.75zM283.90,598.00h0.75v-10.31h-0.75zM284.65,598.00h0.75v-7.95h-0.75zM285.40,598.00h0.75v-9.52h-0.75zM286.15,598.00h0.75v-7.97h-0.75zM286.90,598.00h0.75v-5.78h-0.75zM287.65,598.00h0.75v-5.06h-0.75z" fill="#66ee00"/>
<line x1="226.3" y1="534.4" x2="226.3" y2="598.6" stroke="#111" stroke-width="1.2" stroke-linecap="butt"/>
<line x1="225.10000000000002" y1="598.0" x2="293.3" y2="598.0" stroke="#111" stroke-width="1.7" stroke-linecap="butt"/>
<line x1="236.43192986558344" y1="598.0" x2="236.43192986558344" y2="600.2" stroke="#111" stroke-width="0.9" stroke-linecap="butt"/>
<line x1="241.89075889630956" y1="598.0" x2="241.89075889630956" y2="600.2" stroke="#111" stroke-width="0.9" stroke-linecap="butt"/>
<line x1="245.76385973116686" y1="598.0" x2="245.76385973116686" y2="600.2" stroke="#111" stroke-width="0.9" stroke-linecap="butt"/>
<line x1="248.7680701344166" y1="598.0" x2="248.7680701344166" y2="600.2" stroke="#111" stroke-width="0.9" stroke-linecap="butt"/>
<line x1="251.22268876189298" y1="598.0" x2="251.22268876189298" y2="600.2" stroke="#111" stroke-width="0.9" stroke-linecap="butt"/>
<line x1="253.298039240442" y1="598.0" x2="253.298039240442" y2="600.2" stroke="#111" stroke-width="0.9" stroke-linecap="butt"/>
<line x1="255.09578959675028" y1="598.0" x2="255.09578959675028" y2="600.2" stroke="#111" stroke-width="0.9" stroke-linecap="butt"/>
<line x1="256.6815177926191" y1="598.0" x2="256.6815177926191" y2="600.2" stroke="#111" stroke-width="0.9" stroke-linecap="butt"/>
<line x1="267.43192986558347" y1="598.0" x2="267.43192986558347" y2="600.2" stroke="#111" stroke-width="0.9" stroke-linecap="butt"/>
<line x1="272.89075889630953" y1="598.0" x2="272.89075889630953" y2="600.2" stroke="#111" stroke-width="0.9" stroke-linecap="butt"/>
<line x1="276.76385973116686" y1="598.0" x2="276.76385973116686" y2="600.2" stroke="#111" stroke-width="0.9" stroke-linecap="butt"/>
<line x1="279.7680701344166" y1="598.0" x2="279.7680701344166" y2="600.2" stroke="#111" stroke-width="0.9" stroke-linecap="butt"/>
<line x1="282.222688761893" y1="598.0" x2="282.222688761893" y2="600.2" stroke="#111" stroke-width="0.9" stroke-linecap="butt"/>
<line x1="284.298039240442" y1="598.0" x2="284.298039240442" y2="600.2" stroke="#111" stroke-width="0.9" stroke-linecap="butt"/>
<line x1="286.09578959675025" y1="598.0" x2="286.09578959675025" y2="600.2" stroke="#111" stroke-width="0.9" stroke-linecap="butt"/>
<line x1="287.6815177926191" y1="598.0" x2="287.6815177926191" y2="600.2" stroke="#111" stroke-width="0.9" stroke-linecap="butt"/>
<line x1="227.10000000000002" y1="598.0" x2="227.10000000000002" y2="601.6" stroke="#111" stroke-width="1.3" stroke-linecap="butt"/>
<line x1="258.1" y1="598.0" x2="258.1" y2="601.6" stroke="#111" stroke-width="1.3" stroke-linecap="butt"/>
<line x1="288.1" y1="598.0" x2="288.1" y2="601.6" stroke="#111" stroke-width="1.3" stroke-linecap="butt"/>
<polyline points="259.4,565.4 259.4,561.0 286.8,561.0 286.8,565.4" fill="none" stroke="#1a1a1a" stroke-width="1.8"/>
<text x="276.9" y="552.0" font-size="12.5" font-family='"Liberation Serif", serif' font-weight="bold" text-anchor="middle" fill="#111" stroke="#111" stroke-width="0.4">81%</text>
<text x="67.9" y="565.7" font-size="12.5" font-family='"Liberation Serif", serif' text-anchor="middle" fill="#111" stroke="#111" stroke-width="0.4" transform="rotate(-90 67.9 565.7)">Cell Count</text>
<path d="M81.90,668.20h0.60v-7.64h-0.60zM83.40,668.20h0.60v-10.73h-0.60zM84.15,668.20h0.60v-12.83h-0.60zM84.90,668.20h0.60v-14.27h-0.60zM87.15,668.20h0.60v-16.39h-0.60zM88.65,668.20h0.60v-21.98h-0.60zM89.40,668.20h0.60v-24.95h-0.60zM90.15,668.20h0.60v-27.64h-0.60zM90.90,668.20h0.60v-27.42h-0.60zM92.40,668.20h0.60v-39.50h-0.60zM96.15,668.20h0.60v-33.16h-0.60zM96.90,668.20h0.60v-25.35h-0.60zM97.65,668.20h0.60v-23.34h-0.60z" fill="#eb8c94"/>
<path d="M109.65,668.20h0.60v-13.91h-0.60zM111.15,668.20h0.60v-20.83h-0.60zM113.40,668.20h0.60v-27.27h-0.60zM114.15,668.20h0.60v-32.00h-0.60zM115.65,668.20h0.60v-30.67h-0.60zM117.90,668.20h0.60v-34.72h-0.60zM120.15,668.20h0.60v-28.86h-0.60zM120.90,668.20h0.60v-24.63h-0.60zM121.65,668.20h0.60v-22.78h-0.60zM122.40,668.20h0.60v-20.47h-0.60zM126.15,668.20h0.60v-10.03h-0.60z" fill="#b6f28a"/>
<path d="M71.40,668.20h0.75v-0.00h-0.75zM72.15,668.20h0.75v-0.00h-0.75zM72.90,668.20h0.75v-0.00h-0.75zM73.65,668.20h0.75v-0.00h-0.75zM74.40,668.20h0.75v-0.00h-0.75zM75.15,668.20h0.75v-0.00h-0.75zM75.90,668.20h0.75v-0.00h-0.75zM76.65,668.20h0.75v-0.00h-0.75zM77.40,668.20h0.75v-0.00h-0.75zM78.15,668.20h0.75v-0.00h-0.75zM78.90,668.20h0.75v-0.00h-0.75zM79.65,668.20h0.75v-0.00h-0.75zM80.40,668.20h0.75v-2.11h-0.75zM81.15,668.20h0.75v-3.83h-0.75zM81.90,668.20h0.75v-4.97h-0.75zM82.65,668.20h0.75v-7.66h-0.75zM83.40,668.20h0.75v-6.55h-0.75zM84.15,668.20h0.75v-6.57h-0.75zM84.90,668.20h0.75v-7.33h-0.75zM85.65,668.20h0.75v-8.63h-0.75zM86.40,668.20h0.75v-12.57h-0.75zM87.15,668.20h0.75v-14.82h-0.75zM87.90,668.20h0.75v-15.36h-0.75zM88.65,668.20h0.75v-13.26h-0.75zM89.40,668.20h0.75v-13.43h-0.75zM90.15,668.20h0.75v-20.30h-0.75zM90.90,668.20h0.75v-15.27h-0.75zM91.65,668.20h0.75v-18.67h-0.75zM92.40,668.20h0.75v-21.98h-0.75zM93.15,668.20h0.75v-27.72h-0.75zM93.90,668.20h0.75v-28.97h-0.75zM94.65,668.20h0.75v-30.12h-0.75zM95.40,668.20h0.75v-27.53h-0.75zM96.15,668.20h0.75v-22.06h-0.75zM96.90,668.20h0.75v-15.15h-0.75zM97.65,668.20h0.75v-15.48h-0.75zM98.40,668.20h0.75v-6.13h-0.75zM99.15,668.20h0.75v-0.00h-0.75zM99.90,668.20h0.75v-0.00h-0.75z" fill="#e41c24"/>
<path d="M100.65,668.20h0.75v-0.24h-0.75zM101.40,668.20h0.75v-0.20h-0.75zM102.15,668.20h0.75v-0.68h-0.75zM102.90,668.20h0.75v-0.49h-0.75zM103.65,668.20h0.75v-0.90h-0.75zM104.40,668.20h0.75v-0.01h-0.75zM105.15,668.20h0.75v-0.33h-0.75zM105.90,668.20h0.75v-0.69h-0.75zM106.65,668.20h0.75v-4.44h-0.75zM107.40,668.20h0.75v-5.64h-0.75zM108.15,668.20h0.75v-5.68h-0.75zM108.90,668.20h0.75v-8.70h-0.75zM109.65,668.20h0.75v-11.85h-0.75zM110.40,668.20h0.75v-10.27h-0.75zM111.15,668.20h0.75v-14.48h-0.75zM111.90,668.20h0.75v-18.73h-0.75zM112.65,668.20h0.75v-17.20h-0.75zM113.40,668.20h0.75v-17.50h-0.75zM114.15,668.20h0.75v-17.53h-0.75zM114.90,668.20h0.75v-21.84h-0.75zM115.65,668.20h0.75v-25.92h-0.75zM116.40,668.20h0.75v-19.62h-0.75zM117.15,668.20h0.75v-22.77h-0.75zM117.90,668.20h0.75v-27.01h-0.75zM118.65,668.20h0.75v-25.30h-0.75zM119.40,668.20h0.75v-25.42h-0.75zM120.15,668.20h0.75v-19.81h-0.75zM120.90,668.20h0.75v-15.67h-0.75zM121.65,668.20h0.75v-16.83h-0.75zM122.40,668.20h0.75v-14.43h-0.75zM123.15,668.20h0.75v-12.24h-0.75zM123.90,668.20h0.75v-11.30h-0.75zM124.65,668.20h0.75v-8.19h-0.75zM125.40,668.20h0.75v-8.03h-0.75zM126.15,668.20h0.75v-6.76h-0.75zM126.90,668.20h0.75v-4.47h-0.75zM127.65,668.20h0.75v-4.08h-0.75zM128.40,668.20h0.75v-1.54h-0.75zM129.15,668.20h0.75v-0.70h-0.75zM129.90,668.20h0.75v-0.79h-0.75zM130.65,668.20h0.75v-0.02h-0.75zM131.40,668.20h0.75v-0.95h-0.75zM132.15,668.20h0.75v-0.74h-0.75z" fill="#66ee00"/>
<line x1="70.8" y1="604.4" x2="70.8" y2="668.8000000000001" stroke="#111" stroke-width="1.2" stroke-linecap="butt"/>
<line x1="69.6" y1="668.2" x2="137.8" y2="668.2" stroke="#111" stroke-width="1.7" stroke-linecap="butt"/>
<line x1="80.57069387078664" y1="668.2" x2="80.57069387078664" y2="670.4000000000001" stroke="#111" stroke-width="0.9" stroke-linecap="butt"/>
<line x1="85.81821339064594" y1="668.2" x2="85.81821339064594" y2="670.4000000000001" stroke="#111" stroke-width="0.9" stroke-linecap="butt"/>
<line x1="89.54138774157327" y1="668.2" x2="89.54138774157327" y2="670.4000000000001" stroke="#111" stroke-width="0.9" stroke-linecap="butt"/>
<line x1="92.42930612921336" y1="668.2" x2="92.42930612921336" y2="670.4000000000001" stroke="#111" stroke-width="0.9" stroke-linecap="butt"/>
<line x1="94.78890726143257" y1="668.2" x2="94.78890726143257" y2="670.4000000000001" stroke="#111" stroke-width="0.9" stroke-linecap="butt"/>
<line x1="96.78392159242485" y1="668.2" x2="96.78392159242485" y2="670.4000000000001" stroke="#111" stroke-width="0.9" stroke-linecap="butt"/>
<line x1="98.5120816123599" y1="668.2" x2="98.5120816123599" y2="670.4000000000001" stroke="#111" stroke-width="0.9" stroke-linecap="butt"/>
<line x1="100.03642678129188" y1="668.2" x2="100.03642678129188" y2="670.4000000000001" stroke="#111" stroke-width="0.9" stroke-linecap="butt"/>
<line x1="110.37069387078664" y1="668.2" x2="110.37069387078664" y2="670.4000000000001" stroke="#111" stroke-width="0.9" stroke-linecap="butt"/>
<line x1="115.61821339064593" y1="668.2" x2="115.61821339064593" y2="670.4000000000001" stroke="#111" stroke-width="0.9" stroke-linecap="butt"/>
<line x1="119.34138774157327" y1="668.2" x2="119.34138774157327" y2="670.4000000000001" stroke="#111" stroke-width="0.9" stroke-linecap="butt"/>
<line x1="122.22930612921336" y1="668.2" x2="122.22930612921336" y2="670.4000000000001" stroke="#111" stroke-width="0.9" stroke-linecap="butt"/>
<line x1="124.58890726143258" y1="668.2" x2="124.58890726143258" y2="670.4000000000001" stroke="#111" stroke-width="0.9" stroke-linecap="butt"/>
<line x1="126.58392159242484" y1="668.2" x2="126.58392159242484" y2="670.4000000000001" stroke="#111" stroke-width="0.9" stroke-linecap="butt"/>
<line x1="128.31208161235992" y1="668.2" x2="128.31208161235992" y2="670.4000000000001" stroke="#111" stroke-width="0.9" stroke-linecap="butt"/>
<line x1="129.8364267812919" y1="668.2" x2="129.8364267812919" y2="670.4000000000001" stroke="#111" stroke-width="0.9" stroke-linecap="butt"/>
<line x1="71.6" y1="668.2" x2="71.6" y2="671.8000000000001" stroke="#111" stroke-width="1.3" stroke-linecap="butt"/>
<line x1="101.39999999999999" y1="668.2" x2="101.39999999999999" y2="671.8000000000001" stroke="#111" stroke-width="1.3" stroke-linecap="butt"/>
<line x1="131.39999999999998" y1="668.2" x2="131.39999999999998" y2="671.8000000000001" stroke="#111" stroke-width="1.3" stroke-linecap="butt"/>
<polyline points="100.0,638.9 100.0,634.5 127.5,634.5 127.5,638.9" fill="none" stroke="#1a1a1a" stroke-width="1.8"/>
<text x="117.6" y="628.8" font-size="12.5" font-family='"Liberation Serif", serif' font-weight="bold" text-anchor="middle" fill="#111" stroke="#111" stroke-width="0.4">44%</text>
<path d="M149.55,668.20h0.60v-5.03h-0.60zM151.05,668.20h0.60v-6.41h-0.60zM151.80,668.20h0.60v-7.30h-0.60zM152.55,668.20h0.60v-10.02h-0.60zM154.05,668.20h0.60v-11.10h-0.60zM157.05,668.20h0.60v-15.57h-0.60zM159.30,668.20h0.60v-24.12h-0.60zM160.80,668.20h0.60v-24.79h-0.60zM163.05,668.20h0.60v-34.30h-0.60zM163.80,668.20h0.60v-40.21h-0.60zM164.55,668.20h0.60v-43.37h-0.60zM165.30,668.20h0.60v-47.13h-0.60zM166.05,668.20h0.60v-42.85h-0.60zM166.80,668.20h0.60v-48.40h-0.60zM168.30,668.20h0.60v-47.27h-0.60zM172.05,668.20h0.60v-20.63h-0.60zM172.80,668.20h0.60v-17.60h-0.60zM174.30,668.20h0.60v-4.18h-0.60z" fill="#eb8c94"/>
<path d="M179.55,668.20h0.60v-9.03h-0.60zM180.30,668.20h0.60v-9.98h-0.60zM181.80,668.20h0.60v-11.35h-0.60zM184.80,668.20h0.60v-9.71h-0.60zM187.05,668.20h0.60v-8.92h-0.60zM188.55,668.20h0.60v-9.02h-0.60zM190.80,668.20h0.60v-7.89h-0.60zM193.05,668.20h0.60v-5.88h-0.60zM194.55,668.20h0.60v-5.69h-0.60zM196.80,668.20h0.60v-4.64h-0.60z" fill="#b6f28a"/>
<path d="M147.30,668.20h0.75v-1.18h-0.75zM148.05,668.20h0.75v-2.10h-0.75zM148.80,668.20h0.75v-2.94h-0.75zM149.55,668.20h0.75v-3.09h-0.75zM150.30,668.20h0.75v-4.49h-0.75zM151.05,668.20h0.75v-4.14h-0.75zM151.80,668.20h0.75v-4.68h-0.75zM152.55,668.20h0.75v-5.33h-0.75zM153.30,668.20h0.75v-7.93h-0.75zM154.05,668.20h0.75v-8.26h-0.75zM154.80,668.20h0.75v-10.75h-0.75zM155.55,668.20h0.75v-10.96h-0.75zM156.30,668.20h0.75v-8.50h-0.75zM157.05,668.20h0.75v-11.26h-0.75zM157.80,668.20h0.75v-14.28h-0.75zM158.55,668.20h0.75v-16.78h-0.75zM159.30,668.20h0.75v-13.83h-0.75zM160.05,668.20h0.75v-17.58h-0.75zM160.80,668.20h0.75v-15.87h-0.75zM161.55,668.20h0.75v-21.64h-0.75zM162.30,668.20h0.75v-27.45h-0.75zM163.05,668.20h0.75v-22.27h-0.75zM163.80,668.20h0.75v-32.05h-0.75zM164.55,668.20h0.75v-33.33h-0.75zM165.30,668.20h0.75v-25.58h-0.75zM166.05,668.20h0.75v-36.19h-0.75zM166.80,668.20h0.75v-41.41h-0.75zM167.55,668.20h0.75v-24.54h-0.75zM168.30,668.20h0.75v-24.89h-0.75zM169.05,668.20h0.75v-32.60h-0.75zM169.80,668.20h0.75v-30.78h-0.75zM170.55,668.20h0.75v-27.24h-0.75zM171.30,668.20h0.75v-21.28h-0.75zM172.05,668.20h0.75v-16.73h-0.75zM172.80,668.20h0.75v-9.83h-0.75zM173.55,668.20h0.75v-7.24h-0.75zM174.30,668.20h0.75v-2.75h-0.75zM175.05,668.20h0.75v-0.58h-0.75zM175.80,668.20h0.75v-0.44h-0.75z" fill="#e41c24"/>
<path d="M176.55,668.20h0.75v-3.43h-0.75zM177.30,668.20h0.75v-4.85h-0.75zM178.05,668.20h0.75v-5.22h-0.75zM178.80,668.20h0.75v-9.54h-0.75zM179.55,668.20h0.75v-8.26h-0.75zM180.30,668.20h0.75v-8.33h-0.75zM181.05,668.20h0.75v-8.29h-0.75zM181.80,668.20h0.75v-10.62h-0.75zM182.55,668.20h0.75v-10.88h-0.75zM183.30,668.20h0.75v-9.70h-0.75zM184.05,668.20h0.75v-9.11h-0.75zM184.80,668.20h0.75v-7.46h-0.75zM185.55,668.20h0.75v-7.46h-0.75zM186.30,668.20h0.75v-10.00h-0.75zM187.05,668.20h0.75v-7.56h-0.75zM187.80,668.20h0.75v-6.85h-0.75zM188.55,668.20h0.75v-7.20h-0.75zM189.30,668.20h0.75v-4.77h-0.75zM190.05,668.20h0.75v-8.43h-0.75zM190.80,668.20h0.75v-7.79h-0.75zM191.55,668.20h0.75v-4.58h-0.75zM192.30,668.20h0.75v-4.67h-0.75zM193.05,668.20h0.75v-5.07h-0.75zM193.80,668.20h0.75v-6.04h-0.75zM194.55,668.20h0.75v-4.77h-0.75zM195.30,668.20h0.75v-5.44h-0.75zM196.05,668.20h0.75v-3.02h-0.75zM196.80,668.20h0.75v-4.22h-0.75zM197.55,668.20h0.75v-5.12h-0.75zM198.30,668.20h0.75v-6.82h-0.75zM199.05,668.20h0.75v-4.11h-0.75zM199.80,668.20h0.75v-1.36h-0.75zM200.55,668.20h0.75v-0.86h-0.75zM201.30,668.20h0.75v-0.53h-0.75zM202.05,668.20h0.75v-0.23h-0.75zM202.80,668.20h0.75v-0.41h-0.75zM203.55,668.20h0.75v-0.81h-0.75zM204.30,668.20h0.75v-0.06h-0.75zM205.05,668.20h0.75v-0.56h-0.75zM205.80,668.20h0.75v-0.34h-0.75zM206.55,668.20h0.75v-0.90h-0.75zM207.30,668.20h0.75v-3.22h-0.75zM208.05,668.20h0.75v-2.39h-0.75z" fill="#66ee00"/>
<line x1="146.7" y1="604.4" x2="146.7" y2="668.8000000000001" stroke="#111" stroke-width="1.2" stroke-linecap="butt"/>
<line x1="145.5" y1="668.2" x2="213.7" y2="668.2" stroke="#111" stroke-width="1.7" stroke-linecap="butt"/>
<line x1="156.41048787165386" y1="668.2" x2="156.41048787165386" y2="670.4000000000001" stroke="#111" stroke-width="0.9" stroke-linecap="butt"/>
<line x1="161.622789139702" y1="668.2" x2="161.622789139702" y2="670.4000000000001" stroke="#111" stroke-width="0.9" stroke-linecap="butt"/>
<line x1="165.32097574330768" y1="668.2" x2="165.32097574330768" y2="670.4000000000001" stroke="#111" stroke-width="0.9" stroke-linecap="butt"/>
<line x1="168.18951212834617" y1="668.2" x2="168.18951212834617" y2="670.4000000000001" stroke="#111" stroke-width="0.9" stroke-linecap="butt"/>
<line x1="170.53327701135586" y1="668.2" x2="170.53327701135586" y2="670.4000000000001" stroke="#111" stroke-width="0.9" stroke-linecap="butt"/>
<line x1="172.514901984422" y1="668.2" x2="172.514901984422" y2="670.4000000000001" stroke="#111" stroke-width="0.9" stroke-linecap="butt"/>
<line x1="174.23146361496154" y1="668.2" x2="174.23146361496154" y2="670.4000000000001" stroke="#111" stroke-width="0.9" stroke-linecap="butt"/>
<line x1="175.74557827940401" y1="668.2" x2="175.74557827940401" y2="670.4000000000001" stroke="#111" stroke-width="0.9" stroke-linecap="butt"/>
<line x1="186.01048787165385" y1="668.2" x2="186.01048787165385" y2="670.4000000000001" stroke="#111" stroke-width="0.9" stroke-linecap="butt"/>
<line x1="191.222789139702" y1="668.2" x2="191.222789139702" y2="670.4000000000001" stroke="#111" stroke-width="0.9" stroke-linecap="butt"/>
<line x1="194.92097574330768" y1="668.2" x2="194.92097574330768" y2="670.4000000000001" stroke="#111" stroke-width="0.9" stroke-linecap="butt"/>
<line x1="197.78951212834616" y1="668.2" x2="197.78951212834616" y2="670.4000000000001" stroke="#111" stroke-width="0.9" stroke-linecap="butt"/>
<line x1="200.13327701135586" y1="668.2" x2="200.13327701135586" y2="670.4000000000001" stroke="#111" stroke-width="0.9" stroke-linecap="butt"/>
<line x1="202.114901984422" y1="668.2" x2="202.114901984422" y2="670.4000000000001" stroke="#111" stroke-width="0.9" stroke-linecap="butt"/>
<line x1="203.83146361496154" y1="668.2" x2="203.83146361496154" y2="670.4000000000001" stroke="#111" stroke-width="0.9" stroke-linecap="butt"/>
<line x1="205.345578279404" y1="668.2" x2="205.345578279404" y2="670.4000000000001" stroke="#111" stroke-width="0.9" stroke-linecap="butt"/>
<line x1="147.5" y1="668.2" x2="147.5" y2="671.8000000000001" stroke="#111" stroke-width="1.3" stroke-linecap="butt"/>
<line x1="177.1" y1="668.2" x2="177.1" y2="671.8000000000001" stroke="#111" stroke-width="1.3" stroke-linecap="butt"/>
<line x1="207.1" y1="668.2" x2="207.1" y2="671.8000000000001" stroke="#111" stroke-width="1.3" stroke-linecap="butt"/>
<polyline points="176.2,638.9 176.2,634.5 205.0,634.5 205.0,638.9" fill="none" stroke="#1a1a1a" stroke-width="1.8"/>
<text x="191.0" y="628.8" font-size="12.5" font-family='"Liberation Serif", serif' font-weight="bold" text-anchor="middle" fill="#111" stroke="#111" stroke-width="0.4">15%</text>
<path d="M232.35,668.20h0.60v-10.08h-0.60zM233.10,668.20h0.60v-11.25h-0.60zM233.85,668.20h0.60v-12.79h-0.60zM235.35,668.20h0.60v-15.41h-0.60zM236.10,668.20h0.60v-17.86h-0.60zM236.85,668.20h0.60v-21.64h-0.60zM239.10,668.20h0.60v-32.23h-0.60zM241.35,668.20h0.60v-41.85h-0.60zM242.10,668.20h0.60v-44.53h-0.60zM249.60,668.20h0.60v-13.78h-0.60zM250.35,668.20h0.60v-11.32h-0.60zM251.85,668.20h0.60v-5.55h-0.60z" fill="#eb8c94"/>
<path d="M263.85,668.20h0.60v-5.03h-0.60zM267.60,668.20h0.60v-5.06h-0.60zM272.85,668.20h0.60v-6.14h-0.60zM275.85,668.20h0.60v-5.58h-0.60zM278.10,668.20h0.60v-4.50h-0.60z" fill="#b6f28a"/>
<path d="M227.10,668.20h0.75v-2.05h-0.75zM227.85,668.20h0.75v-3.55h-0.75zM228.60,668.20h0.75v-4.36h-0.75zM229.35,668.20h0.75v-4.62h-0.75zM230.10,668.20h0.75v-4.87h-0.75zM230.85,668.20h0.75v-6.61h-0.75zM231.60,668.20h0.75v-6.76h-0.75zM232.35,668.20h0.75v-9.06h-0.75zM233.10,668.20h0.75v-6.76h-0.75zM233.85,668.20h0.75v-9.12h-0.75zM234.60,668.20h0.75v-7.76h-0.75zM235.35,668.20h0.75v-9.52h-0.75zM236.10,668.20h0.75v-11.79h-0.75zM236.85,668.20h0.75v-14.61h-0.75zM237.60,668.20h0.75v-13.15h-0.75zM238.35,668.20h0.75v-15.12h-0.75zM239.10,668.20h0.75v-19.98h-0.75zM239.85,668.20h0.75v-22.49h-0.75zM240.60,668.20h0.75v-25.76h-0.75zM241.35,668.20h0.75v-26.80h-0.75zM242.10,668.20h0.75v-22.35h-0.75zM242.85,668.20h0.75v-24.70h-0.75zM243.60,668.20h0.75v-28.41h-0.75zM244.35,668.20h0.75v-23.96h-0.75zM245.10,668.20h0.75v-25.35h-0.75zM245.85,668.20h0.75v-21.87h-0.75zM246.60,668.20h0.75v-16.62h-0.75zM247.35,668.20h0.75v-14.18h-0.75zM248.10,668.20h0.75v-16.44h-0.75zM248.85,668.20h0.75v-9.65h-0.75zM249.60,668.20h0.75v-12.08h-0.75zM250.35,668.20h0.75v-9.67h-0.75zM251.10,668.20h0.75v-7.12h-0.75zM251.85,668.20h0.75v-4.95h-0.75zM252.60,668.20h0.75v-2.01h-0.75zM253.35,668.20h0.75v-0.34h-0.75zM254.10,668.20h0.75v-0.00h-0.75zM254.85,668.20h0.75v-0.00h-0.75zM255.60,668.20h0.75v-0.00h-0.75zM256.35,668.20h0.75v-0.00h-0.75z" fill="#e41c24"/>
<path d="M257.10,668.20h0.75v-6.63h-0.75zM257.85,668.20h0.75v-6.33h-0.75zM258.60,668.20h0.75v-10.86h-0.75zM259.35,668.20h0.75v-6.65h-0.75zM260.10,668.20h0.75v-4.42h-0.75zM260.85,668.20h0.75v-6.83h-0.75zM261.60,668.20h0.75v-5.35h-0.75zM262.35,668.20h0.75v-5.52h-0.75zM263.10,668.20h0.75v-9.47h-0.75zM263.85,668.20h0.75v-3.67h-0.75zM264.60,668.20h0.75v-3.10h-0.75zM265.35,668.20h0.75v-5.05h-0.75zM266.10,668.20h0.75v-5.36h-0.75zM266.85,668.20h0.75v-5.40h-0.75zM267.60,668.20h0.75v-4.36h-0.75zM268.35,668.20h0.75v-7.35h-0.75zM269.10,668.20h0.75v-6.81h-0.75zM269.85,668.20h0.75v-6.77h-0.75zM270.60,668.20h0.75v-4.78h-0.75zM271.35,668.20h0.75v-6.87h-0.75zM272.10,668.20h0.75v-3.95h-0.75zM272.85,668.20h0.75v-6.13h-0.75zM273.60,668.20h0.75v-5.49h-0.75zM274.35,668.20h0.75v-6.44h-0.75zM275.10,668.20h0.75v-10.74h-0.75zM275.85,668.20h0.75v-4.98h-0.75zM276.60,668.20h0.75v-5.90h-0.75zM277.35,668.20h0.75v-5.05h-0.75zM278.10,668.20h0.75v-3.60h-0.75zM278.85,668.20h0.75v-8.58h-0.75zM279.60,668.20h0.75v-6.72h-0.75zM280.35,668.20h0.75v-6.01h-0.75zM281.10,668.20h0.75v-2.82h-0.75zM281.85,668.20h0.75v-2.04h-0.75zM282.60,668.20h0.75v-2.39h-0.75zM283.35,668.20h0.75v-2.44h-0.75zM284.10,668.20h0.75v-3.59h-0.75zM284.85,668.20h0.75v-4.25h-0.75zM285.60,668.20h0.75v-0.77h-0.75zM286.35,668.20h0.75v-0.48h-0.75zM287.10,668.20h0.75v-0.26h-0.75zM287.85,668.20h0.75v-5.78h-0.75z" fill="#66ee00"/>
<line x1="226.5" y1="604.4" x2="226.5" y2="668.8000000000001" stroke="#111" stroke-width="1.2" stroke-linecap="butt"/>
<line x1="225.3" y1="668.2" x2="293.5" y2="668.2" stroke="#111" stroke-width="1.7" stroke-linecap="butt"/>
<line x1="236.45131186818503" y1="668.2" x2="236.45131186818503" y2="670.4000000000001" stroke="#111" stroke-width="0.9" stroke-linecap="butt"/>
<line x1="241.80448614347776" y1="668.2" x2="241.80448614347776" y2="670.4000000000001" stroke="#111" stroke-width="0.9" stroke-linecap="butt"/>
<line x1="245.60262373637008" y1="668.2" x2="245.60262373637008" y2="670.4000000000001" stroke="#111" stroke-width="0.9" stroke-linecap="butt"/>
<line x1="248.54868813181497" y1="668.2" x2="248.54868813181497" y2="670.4000000000001" stroke="#111" stroke-width="0.9" stroke-linecap="butt"/>
<line x1="250.95579801166278" y1="668.2" x2="250.95579801166278" y2="670.4000000000001" stroke="#111" stroke-width="0.9" stroke-linecap="butt"/>
<line x1="252.99098041643342" y1="668.2" x2="252.99098041643342" y2="670.4000000000001" stroke="#111" stroke-width="0.9" stroke-linecap="butt"/>
<line x1="254.7539356045551" y1="668.2" x2="254.7539356045551" y2="670.4000000000001" stroke="#111" stroke-width="0.9" stroke-linecap="butt"/>
<line x1="256.3089722869555" y1="668.2" x2="256.3089722869555" y2="670.4000000000001" stroke="#111" stroke-width="0.9" stroke-linecap="butt"/>
<line x1="266.85131186818506" y1="668.2" x2="266.85131186818506" y2="670.4000000000001" stroke="#111" stroke-width="0.9" stroke-linecap="butt"/>
<line x1="272.20448614347777" y1="668.2" x2="272.20448614347777" y2="670.4000000000001" stroke="#111" stroke-width="0.9" stroke-linecap="butt"/>
<line x1="276.0026237363701" y1="668.2" x2="276.0026237363701" y2="670.4000000000001" stroke="#111" stroke-width="0.9" stroke-linecap="butt"/>
<line x1="278.94868813181495" y1="668.2" x2="278.94868813181495" y2="670.4000000000001" stroke="#111" stroke-width="0.9" stroke-linecap="butt"/>
<line x1="281.3557980116628" y1="668.2" x2="281.3557980116628" y2="670.4000000000001" stroke="#111" stroke-width="0.9" stroke-linecap="butt"/>
<line x1="283.3909804164334" y1="668.2" x2="283.3909804164334" y2="670.4000000000001" stroke="#111" stroke-width="0.9" stroke-linecap="butt"/>
<line x1="285.1539356045551" y1="668.2" x2="285.1539356045551" y2="670.4000000000001" stroke="#111" stroke-width="0.9" stroke-linecap="butt"/>
<line x1="286.7089722869555" y1="668.2" x2="286.7089722869555" y2="670.4000000000001" stroke="#111" stroke-width="0.9" stroke-linecap="butt"/>
<line x1="227.3" y1="668.2" x2="227.3" y2="671.8000000000001" stroke="#111" stroke-width="1.3" stroke-linecap="butt"/>
<line x1="257.7" y1="668.2" x2="257.7" y2="671.8000000000001" stroke="#111" stroke-width="1.3" stroke-linecap="butt"/>
<line x1="287.7" y1="668.2" x2="287.7" y2="671.8000000000001" stroke="#111" stroke-width="1.3" stroke-linecap="butt"/>
<polyline points="255.8,638.9 255.8,634.5 284.6,634.5 284.6,638.9" fill="none" stroke="#1a1a1a" stroke-width="1.8"/>
<text x="272.0" y="628.8" font-size="12.5" font-family='"Liberation Serif", serif' font-weight="bold" text-anchor="middle" fill="#111" stroke="#111" stroke-width="0.4">14%</text>
<text x="65.9" y="636.8" font-size="12.5" font-family='"Liberation Serif", serif' text-anchor="middle" fill="#111" stroke="#111" stroke-width="0.4" transform="rotate(-90 65.9 636.8)">Cell Count</text>
<text x="110.0" y="374.6" font-size="16" font-family='"Liberation Serif", serif' text-anchor="middle" fill="#111" stroke="#111" stroke-width="0.4">Day 0</text>
<text x="224" y="374.6" font-size="16" font-family='"Liberation Serif", serif' text-anchor="middle" fill="#111" stroke="#111" stroke-width="0.4">Day 5</text>
<line x1="78.8" y1="379.6" x2="144" y2="379.6" stroke="#111" stroke-width="1.7" stroke-linecap="butt"/>
<line x1="151.3" y1="379.6" x2="294.5" y2="379.6" stroke="#111" stroke-width="1.7" stroke-linecap="butt"/>
<text x="109.2" y="394.6" font-size="12" font-family='"Liberation Serif", serif' text-anchor="middle" fill="#111" stroke="#111" stroke-width="0.4">Vehicle</text>
<text x="188.8" y="394.8" font-size="12" font-family='"Liberation Serif", serif' text-anchor="middle" fill="#111" stroke="#111" stroke-width="0.4">Vehicle</text>
<text x="258.8" y="394.8" font-size="12" font-family='"Liberation Serif", serif' text-anchor="middle" fill="#111" stroke="#111" stroke-width="0.4">ABT-737</text>
<text x="54.6" y="429.0" font-size="12.5" font-family='"Liberation Serif", serif' text-anchor="end" fill="#111" stroke="#111" stroke-width="0.4">Rluc.713</text>
<text x="54.6" y="498.6" font-size="12.5" font-family='"Liberation Serif", serif' text-anchor="end" fill="#111" stroke="#111" stroke-width="0.4">Dhx9.1241</text>
<text x="55.2" y="571.9" font-size="12.5" font-family='"Liberation Serif", serif' text-anchor="end" fill="#111" stroke="#111" stroke-width="0.4">Rluc.713</text>
<text x="54.8" y="642.2" font-size="12.5" font-family='"Liberation Serif", serif' text-anchor="end" fill="#111" stroke="#111" stroke-width="0.4">Dhx9.1241</text>
<text x="105.5" y="683" font-size="12.9" font-family='"Liberation Serif", serif' text-anchor="middle" fill="#111" stroke="#111" stroke-width="0.4">GFP Intensity</text>
<text x="183.9" y="683" font-size="12.9" font-family='"Liberation Serif", serif' text-anchor="middle" fill="#111" stroke="#111" stroke-width="0.4">GFP Intensity</text>
<text x="260.3" y="683" font-size="12.9" font-family='"Liberation Serif", serif' text-anchor="middle" fill="#111" stroke="#111" stroke-width="0.4">GFP Intensity</text>
<line x1="308.8" y1="412.7" x2="308.8" y2="528.2" stroke="#111" stroke-width="1.2" stroke-linecap="butt"/>
<line x1="310.6" y1="555" x2="310.6" y2="671.2" stroke="#111" stroke-width="1.2" stroke-linecap="butt"/>
<text x="316.0" y="466.8" font-size="12.5" font-family='"Liberation Serif", serif' text-anchor="middle" fill="#111" stroke="#111" stroke-width="0.4" transform="rotate(90 316.0 466.8)">Fluc.1309/Puro</text>
<text x="316.0" y="608.8" font-size="12.5" font-family='"Liberation Serif", serif' text-anchor="middle" fill="#111" stroke="#111" stroke-width="0.4" transform="rotate(90 316.0 608.8)">Myc.1405/Puro</text>
<text x="422.1" y="374.4" font-size="12.5" font-family='"Liberation Serif", serif' text-anchor="middle" fill="#111" stroke="#111" stroke-width="0.4">MLP/shFluc</text>
<text x="489" y="374.4" font-size="12.5" font-family='"Liberation Serif", serif' text-anchor="middle" fill="#111" stroke="#111" stroke-width="0.4">MLP/shMyc</text>
<line x1="391.2" y1="378.8" x2="453" y2="378.8" stroke="#111" stroke-width="1.8" stroke-linecap="butt"/>
<line x1="456.6" y1="378.8" x2="520" y2="378.8" stroke="#111" stroke-width="1.8" stroke-linecap="butt"/>
<text x="411.4" y="437.2" font-size="12.6" font-family='"Liberation Serif", serif' fill="#111" stroke="#111" stroke-width="0.4" transform="rotate(-90 411.4 437.2)">Rluc.713</text>
<text x="443.2" y="437.2" font-size="12.6" font-family='"Liberation Serif", serif' fill="#111" stroke="#111" stroke-width="0.4" transform="rotate(-90 443.2 437.2)">Dhx9.1241</text>
<text x="477.0" y="437.2" font-size="12.6" font-family='"Liberation Serif", serif' fill="#111" stroke="#111" stroke-width="0.4" transform="rotate(-90 477.0 437.2)">Rluc.713</text>
<text x="507.2" y="437.2" font-size="12.6" font-family='"Liberation Serif", serif' fill="#111" stroke="#111" stroke-width="0.4" transform="rotate(-90 507.2 437.2)">Dhx9.1241</text>
<text x="387.2" y="452.3" font-size="14.3" font-family='"Liberation Serif", serif' text-anchor="end" fill="#111" stroke="#111" stroke-width="0.4">c-Myc</text>
<text x="387.2" y="471.8" font-size="14.3" font-family='"Liberation Serif", serif' text-anchor="end" fill="#111" stroke="#111" stroke-width="0.4">Dhx9</text>
<text x="387.2" y="492.1" font-size="14.3" font-family='"Liberation Serif", serif' text-anchor="end" fill="#111" stroke="#111" stroke-width="0.4">eEF2</text>
<defs><filter id="bl" x="-20%" y="-50%" width="140%" height="200%"><feGaussianBlur stdDeviation="1.2 0.9"/></filter></defs>
<rect x="391.0" y="440.6" width="127.2" height="15.8" fill="#ececec"/>
<rect x="391.0" y="460.1" width="127.2" height="16.4" fill="#dadada"/>
<rect x="391.0" y="478.4" width="127.2" height="15.8" fill="#cdcdcd"/>
<defs><filter id="bl2" x="-30%" y="-100%" width="160%" height="300%"><feGaussianBlur stdDeviation="2.2 1.8"/></filter></defs>
<clipPath id="cb0"><rect x="391" y="440.6" width="127.2" height="15.8"/></clipPath>
<g clip-path="url(#cb0)"><g filter="url(#bl2)">
<rect x="393" y="439.56" width="29" height="14.080000000000002" rx="5.120000000000001" fill="#000" opacity="0.194"/>
<rect x="426.7" y="441.22" width="24.900000000000034" height="12.76" rx="4.64" fill="#000" opacity="0.186"/>
<rect x="457.7" y="442.66" width="22.19999999999999" height="11.880000000000003" rx="4.32" fill="#000" opacity="0.092"/>
<rect x="487.4" y="443.47999999999996" width="23.5" height="11.440000000000001" rx="4.16" fill="#000" opacity="0.080"/>
</g><g filter="url(#bl)">
<rect x="394" y="443.40000000000003" width="27" height="6.4" rx="2.1333333333333333" fill="rgb(20,20,20)"/>
<rect x="427.7" y="444.70000000000005" width="22.900000000000034" height="5.8" rx="1.9333333333333333" fill="rgb(28,28,28)"/>
<rect x="458.7" y="445.90000000000003" width="20.19999999999999" height="5.4" rx="1.8" fill="rgb(117,117,117)"/>
<rect x="488.4" y="446.59999999999997" width="21.5" height="5.2" rx="1.7333333333333334" fill="rgb(129,129,129)"/>
</g></g>
<clipPath id="cb1"><rect x="391" y="460.1" width="127.2" height="16.4"/></clipPath>
<g clip-path="url(#cb1)"><g filter="url(#bl2)">
<rect x="394.0" y="459.24" width="30.899999999999977" height="21.12" rx="7.68" fill="#000" opacity="0.200"/>
<rect x="427.4" y="463.46000000000004" width="24.200000000000045" height="9.680000000000001" rx="3.5200000000000005" fill="#000" opacity="0.184"/>
<rect x="457.4" y="461.35999999999996" width="26.80000000000001" height="14.080000000000002" rx="5.120000000000001" fill="#000" opacity="0.200"/>
<rect x="489.4" y="465.44" width="22.80000000000001" height="5.720000000000001" rx="2.08" fill="#000" opacity="0.110"/>
</g><g filter="url(#bl)">
<rect x="395.0" y="465.0" width="28.899999999999977" height="9.6" rx="3.1999999999999997" fill="rgb(15,15,15)"/>
<rect x="428.4" y="466.1" width="22.200000000000045" height="4.4" rx="1.4666666666666668" fill="rgb(30,30,30)"/>
<rect x="458.4" y="465.2" width="24.80000000000001" height="6.4" rx="2.1333333333333333" fill="rgb(15,15,15)"/>
<rect x="490.4" y="467.0" width="20.80000000000001" height="2.6" rx="0.8666666666666667" fill="rgb(100,100,100)"/>
</g></g>
<clipPath id="cb2"><rect x="391" y="478.4" width="127.2" height="15.8"/></clipPath>
<g clip-path="url(#cb2)"><g filter="url(#bl2)">
<rect x="390.4" y="481.42" width="30.900000000000034" height="12.76" rx="4.64" fill="#000" opacity="0.200"/>
<rect x="424.7" y="482.26" width="27.600000000000023" height="11.880000000000003" rx="4.32" fill="#000" opacity="0.196"/>
<rect x="457.7" y="483.47999999999996" width="26.30000000000001" height="11.440000000000001" rx="4.16" fill="#000" opacity="0.196"/>
<rect x="488.7" y="484.78" width="26.19999999999999" height="11.440000000000001" rx="4.16" fill="#000" opacity="0.200"/>
</g><g filter="url(#bl)">
<rect x="391.4" y="484.90000000000003" width="28.900000000000034" height="5.8" rx="1.9333333333333333" fill="rgb(15,15,15)"/>
<rect x="425.7" y="485.5" width="25.600000000000023" height="5.4" rx="1.8" fill="rgb(18,18,18)"/>
<rect x="458.7" y="486.59999999999997" width="24.30000000000001" height="5.2" rx="1.7333333333333334" fill="rgb(18,18,18)"/>
<rect x="489.7" y="487.9" width="24.19999999999999" height="5.2" rx="1.7333333333333334" fill="rgb(15,15,15)"/>
</g></g>
<line x1="414.4" y1="514" x2="414.4" y2="660.5" stroke="#111" stroke-width="2.2" stroke-linecap="butt"/>
<line x1="410.5" y1="656" x2="517.8" y2="656" stroke="#111" stroke-width="2.2" stroke-linecap="butt"/>
<line x1="410.2" y1="532" x2="414.4" y2="532" stroke="#111" stroke-width="1.6" stroke-linecap="butt"/>
<line x1="410.2" y1="548.5" x2="414.4" y2="548.5" stroke="#111" stroke-width="1.6" stroke-linecap="butt"/>
<line x1="410.2" y1="575.2" x2="414.4" y2="575.2" stroke="#111" stroke-width="1.6" stroke-linecap="butt"/>
<line x1="410.2" y1="601.5" x2="414.4" y2="601.5" stroke="#111" stroke-width="1.6" stroke-linecap="butt"/>
<line x1="410.2" y1="628" x2="414.4" y2="628" stroke="#111" stroke-width="1.6" stroke-linecap="butt"/>
<line x1="410.2" y1="655" x2="414.4" y2="655" stroke="#111" stroke-width="1.6" stroke-linecap="butt"/>
<text x="407.6" y="527.1" font-size="12.5" font-family='"Liberation Serif", serif' text-anchor="end" fill="#111" stroke="#111" stroke-width="0.4">1.0</text>
<text x="407.6" y="553.4" font-size="12.5" font-family='"Liberation Serif", serif' text-anchor="end" fill="#111" stroke="#111" stroke-width="0.4">0.8</text>
<text x="407.6" y="579.7" font-size="12.5" font-family='"Liberation Serif", serif' text-anchor="end" fill="#111" stroke="#111" stroke-width="0.4">0.6</text>
<text x="407.6" y="606.0" font-size="12.5" font-family='"Liberation Serif", serif' text-anchor="end" fill="#111" stroke="#111" stroke-width="0.4">0.4</text>
<text x="407.6" y="632.3000000000001" font-size="12.5" font-family='"Liberation Serif", serif' text-anchor="end" fill="#111" stroke="#111" stroke-width="0.4">0.2</text>
<text x="407.6" y="658.6" font-size="12.5" font-family='"Liberation Serif", serif' text-anchor="end" fill="#111" stroke="#111" stroke-width="0.4">0.0</text>
<line x1="426.87439281311754" y1="656" x2="426.87439281311754" y2="659" stroke="#111" stroke-width="0.9" stroke-linecap="butt"/>
<line x1="434.46392607841744" y1="656" x2="434.46392607841744" y2="659" stroke="#111" stroke-width="0.9" stroke-linecap="butt"/>
<line x1="439.84878562623516" y1="656" x2="439.84878562623516" y2="659" stroke="#111" stroke-width="0.9" stroke-linecap="butt"/>
<line x1="444.0256071868824" y1="656" x2="444.0256071868824" y2="659" stroke="#111" stroke-width="0.9" stroke-linecap="butt"/>
<line x1="447.438318891535" y1="656" x2="447.438318891535" y2="659" stroke="#111" stroke-width="0.9" stroke-linecap="butt"/>
<line x1="450.3237255246145" y1="656" x2="450.3237255246145" y2="659" stroke="#111" stroke-width="0.9" stroke-linecap="butt"/>
<line x1="452.8231784393528" y1="656" x2="452.8231784393528" y2="659" stroke="#111" stroke-width="0.9" stroke-linecap="butt"/>
<line x1="455.0278521568349" y1="656" x2="455.0278521568349" y2="659" stroke="#111" stroke-width="0.9" stroke-linecap="butt"/>
<line x1="469.97439281311756" y1="656" x2="469.97439281311756" y2="659" stroke="#111" stroke-width="0.9" stroke-linecap="butt"/>
<line x1="477.5639260784174" y1="656" x2="477.5639260784174" y2="659" stroke="#111" stroke-width="0.9" stroke-linecap="butt"/>
<line x1="482.9487856262352" y1="656" x2="482.9487856262352" y2="659" stroke="#111" stroke-width="0.9" stroke-linecap="butt"/>
<line x1="487.1256071868824" y1="656" x2="487.1256071868824" y2="659" stroke="#111" stroke-width="0.9" stroke-linecap="butt"/>
<line x1="490.538318891535" y1="656" x2="490.538318891535" y2="659" stroke="#111" stroke-width="0.9" stroke-linecap="butt"/>
<line x1="493.42372552461444" y1="656" x2="493.42372552461444" y2="659" stroke="#111" stroke-width="0.9" stroke-linecap="butt"/>
<line x1="495.92317843935274" y1="656" x2="495.92317843935274" y2="659" stroke="#111" stroke-width="0.9" stroke-linecap="butt"/>
<line x1="498.1278521568349" y1="656" x2="498.1278521568349" y2="659" stroke="#111" stroke-width="0.9" stroke-linecap="butt"/>
<line x1="513.0743928131176" y1="656" x2="513.0743928131176" y2="659" stroke="#111" stroke-width="0.9" stroke-linecap="butt"/>
<line x1="457.0" y1="656" x2="457.0" y2="660.5" stroke="#111" stroke-width="1.4" stroke-linecap="butt"/>
<line x1="500.09999999999997" y1="656" x2="500.09999999999997" y2="660.5" stroke="#111" stroke-width="1.4" stroke-linecap="butt"/>
<text x="456.4" y="671.2" font-size="12.5" font-family='"Liberation Serif", serif' text-anchor="middle" fill="#111" stroke="#111" stroke-width="0.4">10</text>
<text x="498" y="671.2" font-size="12.5" font-family='"Liberation Serif", serif' text-anchor="middle" fill="#111" stroke="#111" stroke-width="0.4">100</text>
<text x="470.8" y="683.2" font-size="12.1" font-family='"Liberation Serif", serif' text-anchor="middle" fill="#111" stroke="#111" stroke-width="0.4">JQ1(+) (nM)</text>
<text x="386.9" y="580.9" font-size="12.4" font-family='"Liberation Serif", serif' text-anchor="middle" fill="#111" stroke="#111" stroke-width="0.4" transform="rotate(-90 386.9 580.9)">Cell count (Treated/Untreated)</text>
<polyline points="438.60,540.00 468.20,552.00 483.60,564.70 498.40,580.20 513.20,592.80" fill="none" stroke="#c0504d" stroke-width="1.7"/>
<polyline points="438.60,546.70 468.20,540.00 483.60,558.40 498.40,576.30 513.20,588.00" fill="none" stroke="#9bbb59" stroke-width="1.7"/>
<polyline points="438.60,535.10 468.20,534.70 483.60,539.30 498.40,547.20 513.20,572.50" fill="none" stroke="#4a7ebb" stroke-width="1.7"/>
<rect x="435.54" y="536.94" width="6.12" height="6.12" fill="#c0504d"/>
<rect x="465.14" y="548.94" width="6.12" height="6.12" fill="#c0504d"/>
<rect x="480.54" y="561.6400000000001" width="6.12" height="6.12" fill="#c0504d"/>
<rect x="495.34" y="577.1400000000001" width="6.12" height="6.12" fill="#c0504d"/>
<rect x="510.14000000000004" y="589.74" width="6.12" height="6.12" fill="#c0504d"/>
<polygon points="438.60,543.10 442.20,549.58 435.00,549.58" fill="#9bbb59"/>
<polygon points="468.20,536.40 471.80,542.88 464.60,542.88" fill="#9bbb59"/>
<polygon points="483.60,554.80 487.20,561.28 480.00,561.28" fill="#9bbb59"/>
<polygon points="498.40,572.70 502.00,579.18 494.80,579.18" fill="#9bbb59"/>
<polygon points="513.20,584.40 516.80,590.88 509.60,590.88" fill="#9bbb59"/>
<polygon points="438.60,531.86 441.84,535.10 438.60,538.34 435.36,535.10" fill="#4a7ebb"/>
<polygon points="468.20,531.46 471.44,534.70 468.20,537.94 464.96,534.70" fill="#4a7ebb"/>
<polygon points="483.60,536.06 486.84,539.30 483.60,542.54 480.36,539.30" fill="#4a7ebb"/>
<polygon points="498.40,543.96 501.64,547.20 498.40,550.44 495.16,547.20" fill="#4a7ebb"/>
<polygon points="513.20,569.26 516.44,572.50 513.20,575.74 509.96,572.50" fill="#4a7ebb"/>
<line x1="483.6" y1="558" x2="483.6" y2="576.3" stroke="#111" stroke-width="1.1" stroke-linecap="butt"/>
<line x1="481.1" y1="558" x2="486.1" y2="558" stroke="#111" stroke-width="1.1" stroke-linecap="butt"/>
<line x1="481.1" y1="576.3" x2="486.1" y2="576.3" stroke="#111" stroke-width="1.1" stroke-linecap="butt"/>
<line x1="498.4" y1="576" x2="498.4" y2="588" stroke="#111" stroke-width="1.1" stroke-linecap="butt"/>
<line x1="495.9" y1="576" x2="500.9" y2="576" stroke="#111" stroke-width="1.1" stroke-linecap="butt"/>
<line x1="495.9" y1="588" x2="500.9" y2="588" stroke="#111" stroke-width="1.1" stroke-linecap="butt"/>
<line x1="513.2" y1="585" x2="513.2" y2="602.2" stroke="#111" stroke-width="1.1" stroke-linecap="butt"/>
<line x1="510.70000000000005" y1="585" x2="515.7" y2="585" stroke="#111" stroke-width="1.1" stroke-linecap="butt"/>
<line x1="510.70000000000005" y1="602.2" x2="515.7" y2="602.2" stroke="#111" stroke-width="1.1" stroke-linecap="butt"/>
<line x1="483.6" y1="552" x2="483.6" y2="565" stroke="#111" stroke-width="1.1" stroke-linecap="butt"/>
<line x1="481.1" y1="552" x2="486.1" y2="552" stroke="#111" stroke-width="1.1" stroke-linecap="butt"/>
<line x1="481.1" y1="565" x2="486.1" y2="565" stroke="#111" stroke-width="1.1" stroke-linecap="butt"/>
<line x1="498.4" y1="572" x2="498.4" y2="581" stroke="#111" stroke-width="1.1" stroke-linecap="butt"/>
<line x1="495.9" y1="572" x2="500.9" y2="572" stroke="#111" stroke-width="1.1" stroke-linecap="butt"/>
<line x1="495.9" y1="581" x2="500.9" y2="581" stroke="#111" stroke-width="1.1" stroke-linecap="butt"/>
<line x1="513.2" y1="581.6" x2="513.2" y2="592" stroke="#111" stroke-width="1.1" stroke-linecap="butt"/>
<line x1="510.70000000000005" y1="581.6" x2="515.7" y2="581.6" stroke="#111" stroke-width="1.1" stroke-linecap="butt"/>
<line x1="510.70000000000005" y1="592" x2="515.7" y2="592" stroke="#111" stroke-width="1.1" stroke-linecap="butt"/>
<line x1="483.6" y1="534.5" x2="483.6" y2="543.6" stroke="#111" stroke-width="1.1" stroke-linecap="butt"/>
<line x1="481.1" y1="534.5" x2="486.1" y2="534.5" stroke="#111" stroke-width="1.1" stroke-linecap="butt"/>
<line x1="481.1" y1="543.6" x2="486.1" y2="543.6" stroke="#111" stroke-width="1.1" stroke-linecap="butt"/>
<line x1="498.4" y1="534.7" x2="498.4" y2="560.5" stroke="#111" stroke-width="1.1" stroke-linecap="butt"/>
<line x1="495.9" y1="534.7" x2="500.9" y2="534.7" stroke="#111" stroke-width="1.1" stroke-linecap="butt"/>
<line x1="495.9" y1="560.5" x2="500.9" y2="560.5" stroke="#111" stroke-width="1.1" stroke-linecap="butt"/>
<polygon points="441.30,598.74 444.36,601.80 441.30,604.86 438.24,601.80" fill="#4a7ebb"/>
<text x="447.6" y="606.3" font-size="13" font-family='"Liberation Serif", serif' fill="#111" stroke="#111" stroke-width="0.4">Rluc.713</text>
<polygon points="441.30,611.40 444.70,617.52 437.90,617.52" fill="#9bbb59"/>
<text x="447.6" y="619.3" font-size="13" font-family='"Liberation Serif", serif' fill="#111" stroke="#111" stroke-width="0.4">Dhx9.1241</text>
<rect x="438.41" y="624.41" width="5.779999999999999" height="5.779999999999999" fill="#c0504d"/>
<text x="447.6" y="631.8" font-size="13" font-family='"Liberation Serif", serif' fill="#111" stroke="#111" stroke-width="0.4">Dhx9.1271</text>
</svg>
</body></html>
